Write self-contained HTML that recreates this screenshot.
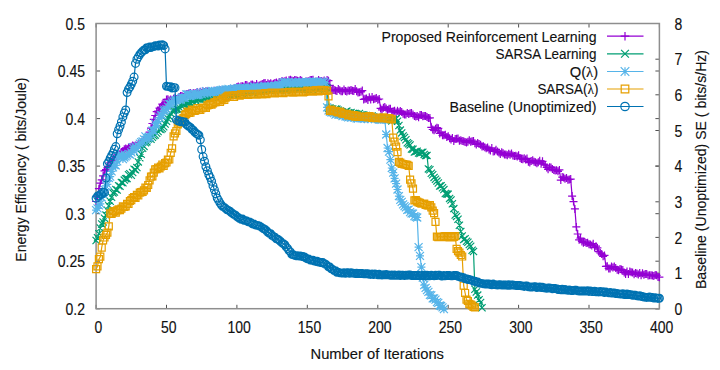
<!DOCTYPE html><html><head><meta charset="utf-8"><style>html,body{margin:0;padding:0;background:#fff;}svg{display:block;}</style></head><body><svg width="720" height="370" viewBox="0 0 720 370"><rect width="720" height="370" fill="#fff"/><path d="M96.1 308.8v-4M96.1 23.5v4M166.5 308.8v-4M166.5 23.5v4M236.9 308.8v-4M236.9 23.5v4M307.3 308.8v-4M307.3 23.5v4M377.8 308.8v-4M377.8 23.5v4M448.2 308.8v-4M448.2 23.5v4M518.6 308.8v-4M518.6 23.5v4M589 308.8v-4M589 23.5v4M659.4 308.8v-4M659.4 23.5v4M96.1 308.8h4M659.4 308.8h-4M96.1 261.2h4M659.4 261.2h-4M96.1 213.7h4M659.4 213.7h-4M96.1 166.1h4M659.4 166.1h-4M96.1 118.6h4M659.4 118.6h-4M96.1 71h4M659.4 71h-4M96.1 23.5h4M659.4 23.5h-4M659.4 308.8h-4M659.4 273.1h-4M659.4 237.4h-4M659.4 201.8h-4M659.4 166.1h-4M659.4 130.5h-4M659.4 94.8h-4M659.4 59.2h-4M659.4 23.5h-4" stroke="#505050" stroke-width="1" fill="none"/><rect x="96.1" y="23.5" width="563.3" height="285.2" fill="none" stroke="#8e8e8e" stroke-width="1.5"/><text transform="translate(98.3 333.4) scale(1 1.12)" text-anchor="middle" font-family="Liberation Sans, sans-serif" font-size="14" fill="#111" stroke="#111" stroke-width="0.12">0</text><text transform="translate(168.7 333.4) scale(1 1.12)" text-anchor="middle" font-family="Liberation Sans, sans-serif" font-size="14" fill="#111" stroke="#111" stroke-width="0.12">50</text><text transform="translate(239.1 333.4) scale(1 1.12)" text-anchor="middle" font-family="Liberation Sans, sans-serif" font-size="14" fill="#111" stroke="#111" stroke-width="0.12">100</text><text transform="translate(309.5 333.4) scale(1 1.12)" text-anchor="middle" font-family="Liberation Sans, sans-serif" font-size="14" fill="#111" stroke="#111" stroke-width="0.12">150</text><text transform="translate(379.9 333.4) scale(1 1.12)" text-anchor="middle" font-family="Liberation Sans, sans-serif" font-size="14" fill="#111" stroke="#111" stroke-width="0.12">200</text><text transform="translate(450.4 333.4) scale(1 1.12)" text-anchor="middle" font-family="Liberation Sans, sans-serif" font-size="14" fill="#111" stroke="#111" stroke-width="0.12">250</text><text transform="translate(520.8 333.4) scale(1 1.12)" text-anchor="middle" font-family="Liberation Sans, sans-serif" font-size="14" fill="#111" stroke="#111" stroke-width="0.12">300</text><text transform="translate(591.2 333.4) scale(1 1.12)" text-anchor="middle" font-family="Liberation Sans, sans-serif" font-size="14" fill="#111" stroke="#111" stroke-width="0.12">350</text><text transform="translate(661.6 333.4) scale(1 1.12)" text-anchor="middle" font-family="Liberation Sans, sans-serif" font-size="14" fill="#111" stroke="#111" stroke-width="0.12">400</text><text transform="translate(85 314.9) scale(1 1.12)" text-anchor="end" font-family="Liberation Sans, sans-serif" font-size="14" fill="#111" stroke="#111" stroke-width="0.12">0.2</text><text transform="translate(85 267.3) scale(1 1.12)" text-anchor="end" font-family="Liberation Sans, sans-serif" font-size="14" fill="#111" stroke="#111" stroke-width="0.12">0.25</text><text transform="translate(85 219.8) scale(1 1.12)" text-anchor="end" font-family="Liberation Sans, sans-serif" font-size="14" fill="#111" stroke="#111" stroke-width="0.12">0.3</text><text transform="translate(85 172.2) scale(1 1.12)" text-anchor="end" font-family="Liberation Sans, sans-serif" font-size="14" fill="#111" stroke="#111" stroke-width="0.12">0.35</text><text transform="translate(85 124.7) scale(1 1.12)" text-anchor="end" font-family="Liberation Sans, sans-serif" font-size="14" fill="#111" stroke="#111" stroke-width="0.12">0.4</text><text transform="translate(85 77.1) scale(1 1.12)" text-anchor="end" font-family="Liberation Sans, sans-serif" font-size="14" fill="#111" stroke="#111" stroke-width="0.12">0.45</text><text transform="translate(85 29.6) scale(1 1.12)" text-anchor="end" font-family="Liberation Sans, sans-serif" font-size="14" fill="#111" stroke="#111" stroke-width="0.12">0.5</text><text transform="translate(674.5 314.9) scale(1 1.12)" font-family="Liberation Sans, sans-serif" font-size="14" fill="#111" stroke="#111" stroke-width="0.12">0</text><text transform="translate(674.5 279.2) scale(1 1.12)" font-family="Liberation Sans, sans-serif" font-size="14" fill="#111" stroke="#111" stroke-width="0.12">1</text><text transform="translate(674.5 243.5) scale(1 1.12)" font-family="Liberation Sans, sans-serif" font-size="14" fill="#111" stroke="#111" stroke-width="0.12">2</text><text transform="translate(674.5 207.9) scale(1 1.12)" font-family="Liberation Sans, sans-serif" font-size="14" fill="#111" stroke="#111" stroke-width="0.12">3</text><text transform="translate(674.5 172.2) scale(1 1.12)" font-family="Liberation Sans, sans-serif" font-size="14" fill="#111" stroke="#111" stroke-width="0.12">4</text><text transform="translate(674.5 136.6) scale(1 1.12)" font-family="Liberation Sans, sans-serif" font-size="14" fill="#111" stroke="#111" stroke-width="0.12">5</text><text transform="translate(674.5 100.9) scale(1 1.12)" font-family="Liberation Sans, sans-serif" font-size="14" fill="#111" stroke="#111" stroke-width="0.12">6</text><text transform="translate(674.5 65.3) scale(1 1.12)" font-family="Liberation Sans, sans-serif" font-size="14" fill="#111" stroke="#111" stroke-width="0.12">7</text><text transform="translate(674.5 29.6) scale(1 1.12)" font-family="Liberation Sans, sans-serif" font-size="14" fill="#111" stroke="#111" stroke-width="0.12">8</text><text transform="translate(310.5 358.8) scale(1 1.1)" textLength="133.5" lengthAdjust="spacingAndGlyphs" font-family="Liberation Sans, sans-serif" font-size="14" fill="#111" stroke="#111" stroke-width="0.12">Number of Iterations</text><text transform="translate(25.8 261.7) rotate(-90) scale(1 1.1)" textLength="184" lengthAdjust="spacingAndGlyphs" font-family="Liberation Sans, sans-serif" font-size="14" fill="#111" stroke="#111" stroke-width="0.12">Energy Efficiency ( bits/Joule)</text><text transform="translate(705.8 289) rotate(-90) scale(1 1.1)" textLength="239" lengthAdjust="spacingAndGlyphs" font-family="Liberation Sans, sans-serif" font-size="14" fill="#111" stroke="#111" stroke-width="0.12">Baseline (Unoptimized) SE ( bits/s/Hz)</text><text transform="translate(596.5 41.5) scale(1 1.1)" text-anchor="end" textLength="215" lengthAdjust="spacingAndGlyphs" font-family="Liberation Sans, sans-serif" font-size="14" fill="#111" stroke="#111" stroke-width="0.12">Proposed Reinforcement Learning</text><text transform="translate(596.5 59.1) scale(1 1.1)" text-anchor="end" textLength="101" lengthAdjust="spacingAndGlyphs" font-family="Liberation Sans, sans-serif" font-size="14" fill="#111" stroke="#111" stroke-width="0.12">SARSA Learning</text><text transform="translate(598.2 76.8) scale(1 1.1)" text-anchor="end" textLength="28.5" lengthAdjust="spacingAndGlyphs" font-family="Liberation Sans, sans-serif" font-size="14" fill="#111" stroke="#111" stroke-width="0.12">Q(<tspan font-family="Liberation Serif, serif">λ</tspan>)</text><text transform="translate(598.4 94.3) scale(1 1.1)" text-anchor="end" textLength="61" lengthAdjust="spacingAndGlyphs" font-family="Liberation Sans, sans-serif" font-size="14" fill="#111" stroke="#111" stroke-width="0.12">SARSA(<tspan font-family="Liberation Serif, serif">λ</tspan>)</text><text transform="translate(596.5 111.8) scale(1 1.1)" text-anchor="end" textLength="147" lengthAdjust="spacingAndGlyphs" font-family="Liberation Sans, sans-serif" font-size="14" fill="#111" stroke="#111" stroke-width="0.12">Baseline (Unoptimized)</text><g stroke="#9400d3" fill="none" stroke-width="1.2"><path d="M96.1 201.5 97.5 196.1 98.9 188.7 100.3 183.2 101.7 179.9 103.1 175.9 104.5 170.8 106 169.6 107.4 167.9 108.8 166.4 110.2 162.8 111.6 161.7 113 159.6 114.4 159.7 115.8 157.9 117.2 154.8 118.6 155.6 120 154.2 121.4 152 122.9 151 124.3 149.3 125.7 148.4 127.1 149.1 128.5 147.4 129.9 147.2 131.3 146.7 132.7 145.6 134.1 146 135.5 145.4 136.9 145.7 138.3 144.3 139.8 143.7 141.2 142.5 142.6 141.9 144 140.6 145.4 138.8 146.8 138 148.2 135.6 149.6 132.2 151 128.2 152.4 123.5 153.8 119.4 155.2 115.5 156.7 111.6 158.1 111.2 159.5 108.1 160.9 107.1 162.3 104.2 163.7 104.3 165.1 102.7 166.5 99.4 167.9 99.2 169.3 100.6 170.7 99.4 172.1 100.4 173.6 98.8 175 97.7 176.4 98.9 177.8 98.8 179.2 97 180.6 96.1 182 96.1 183.4 97.1 184.8 96.1 186.2 94.1 187.6 93.9 189 93.3 190.5 93 191.9 94.6 193.3 92.9 194.7 93.6 196.1 93.1 197.5 92.3 198.9 93.4 200.3 91.8 201.7 92.8 203.1 91.4 204.5 91.9 205.9 91.3 207.4 91.4 208.8 92.9 210.2 92.4 211.6 91.2 213 92.5 214.4 90.7 215.8 91.1 217.2 92.1 218.6 91.5 220 90.1 221.4 92.2 222.8 90.2 224.3 90.2 225.7 91.4 227.1 90.3 228.5 90.1 229.9 89.5 231.3 89 232.7 89.6 234.1 88.2 235.5 88.4 236.9 87 238.3 86.4 239.7 87.4 241.1 86.2 242.6 86.3 244 86.8 245.4 85.1 246.8 84.9 248.2 86.6 249.6 86.2 251 84.7 252.4 84.4 253.8 85.6 255.2 86 256.6 84.1 258 85.8 259.5 85.5 260.9 84.7 262.3 84.1 263.7 83.3 265.1 83 266.5 85.1 267.9 83.3 269.3 84.3 270.7 83.2 272.1 84.4 273.5 83.8 274.9 82.9 276.4 82.6 277.8 83.8 279.2 82.1 280.6 82.4 282 81.1 283.4 81.8 284.8 81.3 286.2 80.5 287.6 82 289 80.3 290.4 79.8 291.8 80.4 293.3 80.9 294.7 79.9 296.1 80.2 297.5 80.7 298.9 81.2 300.3 80.1 301.7 80.7 303.1 81.9 304.5 82.2 305.9 81.4 307.3 81.5 308.7 81.2 310.2 80.1 311.6 79.9 313 79.8 314.4 82 315.8 81.5 317.2 82.1 318.6 79.9 320 81.3 321.4 81 322.8 81.6 324.2 80.6 325.6 82.2 327.1 80 328.5 80.7 329.9 85.3 331.3 90.5 332.7 90 334.1 90 335.5 90.4 336.9 90.9 338.3 89 339.7 90.3 341.1 91.2 342.5 91.2 344 89.6 345.4 91.1 346.8 91.4 348.2 90.4 349.6 90.7 351 89.9 352.4 90.7 353.8 90.9 355.2 89.1 356.6 91.2 358 92.5 359.4 92.2 360.9 91.8 362.3 90.6 363.7 99.4 365.1 98.8 366.5 98.4 367.9 99.9 369.3 97.2 370.7 99.6 372.1 97.1 373.5 99.2 374.9 98.8 376.3 97.9 377.8 99.7 379.2 99 380.6 108.4 382 109.8 383.4 107.7 384.8 107.1 386.2 108.4 387.6 110.1 389 108.7 390.4 108.8 391.8 111.8 393.2 111.2 394.6 110.7 396.1 112.6 397.5 110.8 398.9 112.3 400.3 111 401.7 112.1 403.1 113.7 404.5 114.4 405.9 114.5 407.3 113 408.7 114 410.1 113.3 411.5 113 413 114.5 414.4 116 415.8 116.4 417.2 116.1 418.6 117.3 420 115.1 421.4 115 422.8 116.3 424.2 116 425.6 116 427 117 428.4 118.1 429.9 117.9 431.3 127.3 432.7 129.5 434.1 130.3 435.5 128.7 436.9 127.7 438.3 128.3 439.7 133.4 441.1 132.4 442.5 135.3 443.9 135.2 445.3 134.8 446.8 137 448.2 136.3 449.6 138.2 451 139.5 452.4 138.1 453.8 141.1 455.2 139 456.6 138.8 458 138.6 459.4 140.8 460.8 140.2 462.2 141 463.7 141.2 465.1 141.9 466.5 142.5 467.9 141.7 469.3 140.3 470.7 141.8 472.1 141.2 473.5 141.1 474.9 143.2 476.3 144.5 477.7 143.1 479.1 143.9 480.6 144.7 482 146.4 483.4 146.3 484.8 147.2 486.2 148.2 487.6 147.5 489 149.4 490.4 150.4 491.8 147.9 493.2 151.5 494.6 151.3 496 149.7 497.5 151.4 498.9 152.5 500.3 154 501.7 152.3 503.1 153.3 504.5 154.6 505.9 154.6 507.3 155.3 508.7 153.8 510.1 154.7 511.5 153.4 512.9 155.5 514.4 156 515.8 155.8 517.2 156.5 518.6 155.2 520 158.1 521.4 158.9 522.8 159.3 524.2 158.2 525.6 159.6 527 158.4 528.4 161.7 529.8 162.6 531.2 161.1 532.7 160.3 534.1 161.7 535.5 162.3 536.9 163.2 538.3 162.3 539.7 160.8 541.1 163.8 542.5 161.3 543.9 164.1 545.3 165.2 546.7 167.5 548.1 169.3 549.6 167.2 551 167.4 552.4 169 553.8 169.9 555.2 170.5 556.6 170.2 558 171.3 559.4 169.9 560.8 180.1 562.2 177.1 563.6 177.6 565 178.8 566.5 178 567.9 179.7 569.3 179.4 570.7 179.1 572.1 196.1 573.5 201.6 574.9 208.9 576.3 226.9 577.7 234 579.1 239.8 580.5 238.2 581.9 241.4 583.4 242.7 584.8 242.1 586.2 243.1 587.6 242.7 589 244.3 590.4 244.6 591.8 245.4 593.2 243.7 594.6 247.5 596 246.2 597.4 247.9 598.8 251.7 600.3 253 601.7 254.1 603.1 256.3 604.5 255.4 605.9 266.4 607.3 266.2 608.7 268.4 610.1 268.6 611.5 266.5 612.9 267.6 614.3 266.6 615.7 268 617.2 269.7 618.6 270.3 620 269.1 621.4 269.5 622.8 269.9 624.2 272.4 625.6 274.1 627 271.4 628.4 273.9 629.8 271.4 631.2 272.2 632.6 272.4 634.1 274.3 635.5 273.1 636.9 273.4 638.3 274.5 639.7 272.9 641.1 275.3 642.5 273.3 643.9 274.8 645.3 274.1 646.7 274.1 648.1 275.4 649.5 275.3 651 275.2 652.4 275.5 653.8 276.1 655.2 274.9 656.6 275.3 658 277 659.4 277.2"/><path d="M92.1 201.5h8M96.1 197.5v8M93.5 196.1h8M97.5 192.1v8M94.9 188.7h8M98.9 184.7v8M96.3 183.2h8M100.3 179.2v8M97.7 179.9h8M101.7 175.9v8M99.1 175.9h8M103.1 171.9v8M100.5 170.8h8M104.5 166.8v8M102 169.6h8M106 165.6v8M103.4 167.9h8M107.4 163.9v8M104.8 166.4h8M108.8 162.4v8M106.2 162.8h8M110.2 158.8v8M107.6 161.7h8M111.6 157.7v8M109 159.6h8M113 155.6v8M110.4 159.7h8M114.4 155.7v8M111.8 157.9h8M115.8 153.9v8M113.2 154.8h8M117.2 150.8v8M114.6 155.6h8M118.6 151.6v8M116 154.2h8M120 150.2v8M117.4 152h8M121.4 148v8M118.9 151h8M122.9 147v8M120.3 149.3h8M124.3 145.3v8M121.7 148.4h8M125.7 144.4v8M123.1 149.1h8M127.1 145.1v8M124.5 147.4h8M128.5 143.4v8M125.9 147.2h8M129.9 143.2v8M127.3 146.7h8M131.3 142.7v8M128.7 145.6h8M132.7 141.6v8M130.1 146h8M134.1 142v8M131.5 145.4h8M135.5 141.4v8M132.9 145.7h8M136.9 141.7v8M134.3 144.3h8M138.3 140.3v8M135.8 143.7h8M139.8 139.7v8M137.2 142.5h8M141.2 138.5v8M138.6 141.9h8M142.6 137.9v8M140 140.6h8M144 136.6v8M141.4 138.8h8M145.4 134.8v8M142.8 138h8M146.8 134v8M144.2 135.6h8M148.2 131.6v8M145.6 132.2h8M149.6 128.2v8M147 128.2h8M151 124.2v8M148.4 123.5h8M152.4 119.5v8M149.8 119.4h8M153.8 115.4v8M151.2 115.5h8M155.2 111.5v8M152.7 111.6h8M156.7 107.6v8M154.1 111.2h8M158.1 107.2v8M155.5 108.1h8M159.5 104.1v8M156.9 107.1h8M160.9 103.1v8M158.3 104.2h8M162.3 100.2v8M159.7 104.3h8M163.7 100.3v8M161.1 102.7h8M165.1 98.7v8M162.5 99.4h8M166.5 95.4v8M163.9 99.2h8M167.9 95.2v8M165.3 100.6h8M169.3 96.6v8M166.7 99.4h8M170.7 95.4v8M168.1 100.4h8M172.1 96.4v8M169.6 98.8h8M173.6 94.8v8M171 97.7h8M175 93.7v8M172.4 98.9h8M176.4 94.9v8M173.8 98.8h8M177.8 94.8v8M175.2 97h8M179.2 93v8M176.6 96.1h8M180.6 92.1v8M178 96.1h8M182 92.1v8M179.4 97.1h8M183.4 93.1v8M180.8 96.1h8M184.8 92.1v8M182.2 94.1h8M186.2 90.1v8M183.6 93.9h8M187.6 89.9v8M185 93.3h8M189 89.3v8M186.5 93h8M190.5 89v8M187.9 94.6h8M191.9 90.6v8M189.3 92.9h8M193.3 88.9v8M190.7 93.6h8M194.7 89.6v8M192.1 93.1h8M196.1 89.1v8M193.5 92.3h8M197.5 88.3v8M194.9 93.4h8M198.9 89.4v8M196.3 91.8h8M200.3 87.8v8M197.7 92.8h8M201.7 88.8v8M199.1 91.4h8M203.1 87.4v8M200.5 91.9h8M204.5 87.9v8M201.9 91.3h8M205.9 87.3v8M203.4 91.4h8M207.4 87.4v8M204.8 92.9h8M208.8 88.9v8M206.2 92.4h8M210.2 88.4v8M207.6 91.2h8M211.6 87.2v8M209 92.5h8M213 88.5v8M210.4 90.7h8M214.4 86.7v8M211.8 91.1h8M215.8 87.1v8M213.2 92.1h8M217.2 88.1v8M214.6 91.5h8M218.6 87.5v8M216 90.1h8M220 86.1v8M217.4 92.2h8M221.4 88.2v8M218.8 90.2h8M222.8 86.2v8M220.3 90.2h8M224.3 86.2v8M221.7 91.4h8M225.7 87.4v8M223.1 90.3h8M227.1 86.3v8M224.5 90.1h8M228.5 86.1v8M225.9 89.5h8M229.9 85.5v8M227.3 89h8M231.3 85v8M228.7 89.6h8M232.7 85.6v8M230.1 88.2h8M234.1 84.2v8M231.5 88.4h8M235.5 84.4v8M232.9 87h8M236.9 83v8M234.3 86.4h8M238.3 82.4v8M235.7 87.4h8M239.7 83.4v8M237.1 86.2h8M241.1 82.2v8M238.6 86.3h8M242.6 82.3v8M240 86.8h8M244 82.8v8M241.4 85.1h8M245.4 81.1v8M242.8 84.9h8M246.8 80.9v8M244.2 86.6h8M248.2 82.6v8M245.6 86.2h8M249.6 82.2v8M247 84.7h8M251 80.7v8M248.4 84.4h8M252.4 80.4v8M249.8 85.6h8M253.8 81.6v8M251.2 86h8M255.2 82v8M252.6 84.1h8M256.6 80.1v8M254 85.8h8M258 81.8v8M255.5 85.5h8M259.5 81.5v8M256.9 84.7h8M260.9 80.7v8M258.3 84.1h8M262.3 80.1v8M259.7 83.3h8M263.7 79.3v8M261.1 83h8M265.1 79v8M262.5 85.1h8M266.5 81.1v8M263.9 83.3h8M267.9 79.3v8M265.3 84.3h8M269.3 80.3v8M266.7 83.2h8M270.7 79.2v8M268.1 84.4h8M272.1 80.4v8M269.5 83.8h8M273.5 79.8v8M270.9 82.9h8M274.9 78.9v8M272.4 82.6h8M276.4 78.6v8M273.8 83.8h8M277.8 79.8v8M275.2 82.1h8M279.2 78.1v8M276.6 82.4h8M280.6 78.4v8M278 81.1h8M282 77.1v8M279.4 81.8h8M283.4 77.8v8M280.8 81.3h8M284.8 77.3v8M282.2 80.5h8M286.2 76.5v8M283.6 82h8M287.6 78v8M285 80.3h8M289 76.3v8M286.4 79.8h8M290.4 75.8v8M287.8 80.4h8M291.8 76.4v8M289.3 80.9h8M293.3 76.9v8M290.7 79.9h8M294.7 75.9v8M292.1 80.2h8M296.1 76.2v8M293.5 80.7h8M297.5 76.7v8M294.9 81.2h8M298.9 77.2v8M296.3 80.1h8M300.3 76.1v8M297.7 80.7h8M301.7 76.7v8M299.1 81.9h8M303.1 77.9v8M300.5 82.2h8M304.5 78.2v8M301.9 81.4h8M305.9 77.4v8M303.3 81.5h8M307.3 77.5v8M304.7 81.2h8M308.7 77.2v8M306.2 80.1h8M310.2 76.1v8M307.6 79.9h8M311.6 75.9v8M309 79.8h8M313 75.8v8M310.4 82h8M314.4 78v8M311.8 81.5h8M315.8 77.5v8M313.2 82.1h8M317.2 78.1v8M314.6 79.9h8M318.6 75.9v8M316 81.3h8M320 77.3v8M317.4 81h8M321.4 77v8M318.8 81.6h8M322.8 77.6v8M320.2 80.6h8M324.2 76.6v8M321.6 82.2h8M325.6 78.2v8M323.1 80h8M327.1 76v8M324.5 80.7h8M328.5 76.7v8M325.9 85.3h8M329.9 81.3v8M327.3 90.5h8M331.3 86.5v8M328.7 90h8M332.7 86v8M330.1 90h8M334.1 86v8M331.5 90.4h8M335.5 86.4v8M332.9 90.9h8M336.9 86.9v8M334.3 89h8M338.3 85v8M335.7 90.3h8M339.7 86.3v8M337.1 91.2h8M341.1 87.2v8M338.5 91.2h8M342.5 87.2v8M340 89.6h8M344 85.6v8M341.4 91.1h8M345.4 87.1v8M342.8 91.4h8M346.8 87.4v8M344.2 90.4h8M348.2 86.4v8M345.6 90.7h8M349.6 86.7v8M347 89.9h8M351 85.9v8M348.4 90.7h8M352.4 86.7v8M349.8 90.9h8M353.8 86.9v8M351.2 89.1h8M355.2 85.1v8M352.6 91.2h8M356.6 87.2v8M354 92.5h8M358 88.5v8M355.4 92.2h8M359.4 88.2v8M356.9 91.8h8M360.9 87.8v8M358.3 90.6h8M362.3 86.6v8M359.7 99.4h8M363.7 95.4v8M361.1 98.8h8M365.1 94.8v8M362.5 98.4h8M366.5 94.4v8M363.9 99.9h8M367.9 95.9v8M365.3 97.2h8M369.3 93.2v8M366.7 99.6h8M370.7 95.6v8M368.1 97.1h8M372.1 93.1v8M369.5 99.2h8M373.5 95.2v8M370.9 98.8h8M374.9 94.8v8M372.3 97.9h8M376.3 93.9v8M373.8 99.7h8M377.8 95.7v8M375.2 99h8M379.2 95v8M376.6 108.4h8M380.6 104.4v8M378 109.8h8M382 105.8v8M379.4 107.7h8M383.4 103.7v8M380.8 107.1h8M384.8 103.1v8M382.2 108.4h8M386.2 104.4v8M383.6 110.1h8M387.6 106.1v8M385 108.7h8M389 104.7v8M386.4 108.8h8M390.4 104.8v8M387.8 111.8h8M391.8 107.8v8M389.2 111.2h8M393.2 107.2v8M390.6 110.7h8M394.6 106.7v8M392.1 112.6h8M396.1 108.6v8M393.5 110.8h8M397.5 106.8v8M394.9 112.3h8M398.9 108.3v8M396.3 111h8M400.3 107v8M397.7 112.1h8M401.7 108.1v8M399.1 113.7h8M403.1 109.7v8M400.5 114.4h8M404.5 110.4v8M401.9 114.5h8M405.9 110.5v8M403.3 113h8M407.3 109v8M404.7 114h8M408.7 110v8M406.1 113.3h8M410.1 109.3v8M407.5 113h8M411.5 109v8M409 114.5h8M413 110.5v8M410.4 116h8M414.4 112v8M411.8 116.4h8M415.8 112.4v8M413.2 116.1h8M417.2 112.1v8M414.6 117.3h8M418.6 113.3v8M416 115.1h8M420 111.1v8M417.4 115h8M421.4 111v8M418.8 116.3h8M422.8 112.3v8M420.2 116h8M424.2 112v8M421.6 116h8M425.6 112v8M423 117h8M427 113v8M424.4 118.1h8M428.4 114.1v8M425.9 117.9h8M429.9 113.9v8M427.3 127.3h8M431.3 123.3v8M428.7 129.5h8M432.7 125.5v8M430.1 130.3h8M434.1 126.3v8M431.5 128.7h8M435.5 124.7v8M432.9 127.7h8M436.9 123.7v8M434.3 128.3h8M438.3 124.3v8M435.7 133.4h8M439.7 129.4v8M437.1 132.4h8M441.1 128.4v8M438.5 135.3h8M442.5 131.3v8M439.9 135.2h8M443.9 131.2v8M441.3 134.8h8M445.3 130.8v8M442.8 137h8M446.8 133v8M444.2 136.3h8M448.2 132.3v8M445.6 138.2h8M449.6 134.2v8M447 139.5h8M451 135.5v8M448.4 138.1h8M452.4 134.1v8M449.8 141.1h8M453.8 137.1v8M451.2 139h8M455.2 135v8M452.6 138.8h8M456.6 134.8v8M454 138.6h8M458 134.6v8M455.4 140.8h8M459.4 136.8v8M456.8 140.2h8M460.8 136.2v8M458.2 141h8M462.2 137v8M459.7 141.2h8M463.7 137.2v8M461.1 141.9h8M465.1 137.9v8M462.5 142.5h8M466.5 138.5v8M463.9 141.7h8M467.9 137.7v8M465.3 140.3h8M469.3 136.3v8M466.7 141.8h8M470.7 137.8v8M468.1 141.2h8M472.1 137.2v8M469.5 141.1h8M473.5 137.1v8M470.9 143.2h8M474.9 139.2v8M472.3 144.5h8M476.3 140.5v8M473.7 143.1h8M477.7 139.1v8M475.1 143.9h8M479.1 139.9v8M476.6 144.7h8M480.6 140.7v8M478 146.4h8M482 142.4v8M479.4 146.3h8M483.4 142.3v8M480.8 147.2h8M484.8 143.2v8M482.2 148.2h8M486.2 144.2v8M483.6 147.5h8M487.6 143.5v8M485 149.4h8M489 145.4v8M486.4 150.4h8M490.4 146.4v8M487.8 147.9h8M491.8 143.9v8M489.2 151.5h8M493.2 147.5v8M490.6 151.3h8M494.6 147.3v8M492 149.7h8M496 145.7v8M493.5 151.4h8M497.5 147.4v8M494.9 152.5h8M498.9 148.5v8M496.3 154h8M500.3 150v8M497.7 152.3h8M501.7 148.3v8M499.1 153.3h8M503.1 149.3v8M500.5 154.6h8M504.5 150.6v8M501.9 154.6h8M505.9 150.6v8M503.3 155.3h8M507.3 151.3v8M504.7 153.8h8M508.7 149.8v8M506.1 154.7h8M510.1 150.7v8M507.5 153.4h8M511.5 149.4v8M508.9 155.5h8M512.9 151.5v8M510.4 156h8M514.4 152v8M511.8 155.8h8M515.8 151.8v8M513.2 156.5h8M517.2 152.5v8M514.6 155.2h8M518.6 151.2v8M516 158.1h8M520 154.1v8M517.4 158.9h8M521.4 154.9v8M518.8 159.3h8M522.8 155.3v8M520.2 158.2h8M524.2 154.2v8M521.6 159.6h8M525.6 155.6v8M523 158.4h8M527 154.4v8M524.4 161.7h8M528.4 157.7v8M525.8 162.6h8M529.8 158.6v8M527.2 161.1h8M531.2 157.1v8M528.7 160.3h8M532.7 156.3v8M530.1 161.7h8M534.1 157.7v8M531.5 162.3h8M535.5 158.3v8M532.9 163.2h8M536.9 159.2v8M534.3 162.3h8M538.3 158.3v8M535.7 160.8h8M539.7 156.8v8M537.1 163.8h8M541.1 159.8v8M538.5 161.3h8M542.5 157.3v8M539.9 164.1h8M543.9 160.1v8M541.3 165.2h8M545.3 161.2v8M542.7 167.5h8M546.7 163.5v8M544.1 169.3h8M548.1 165.3v8M545.6 167.2h8M549.6 163.2v8M547 167.4h8M551 163.4v8M548.4 169h8M552.4 165v8M549.8 169.9h8M553.8 165.9v8M551.2 170.5h8M555.2 166.5v8M552.6 170.2h8M556.6 166.2v8M554 171.3h8M558 167.3v8M555.4 169.9h8M559.4 165.9v8M556.8 180.1h8M560.8 176.1v8M558.2 177.1h8M562.2 173.1v8M559.6 177.6h8M563.6 173.6v8M561 178.8h8M565 174.8v8M562.5 178h8M566.5 174v8M563.9 179.7h8M567.9 175.7v8M565.3 179.4h8M569.3 175.4v8M566.7 179.1h8M570.7 175.1v8M568.1 196.1h8M572.1 192.1v8M569.5 201.6h8M573.5 197.6v8M570.9 208.9h8M574.9 204.9v8M572.3 226.9h8M576.3 222.9v8M573.7 234h8M577.7 230v8M575.1 239.8h8M579.1 235.8v8M576.5 238.2h8M580.5 234.2v8M577.9 241.4h8M581.9 237.4v8M579.4 242.7h8M583.4 238.7v8M580.8 242.1h8M584.8 238.1v8M582.2 243.1h8M586.2 239.1v8M583.6 242.7h8M587.6 238.7v8M585 244.3h8M589 240.3v8M586.4 244.6h8M590.4 240.6v8M587.8 245.4h8M591.8 241.4v8M589.2 243.7h8M593.2 239.7v8M590.6 247.5h8M594.6 243.5v8M592 246.2h8M596 242.2v8M593.4 247.9h8M597.4 243.9v8M594.8 251.7h8M598.8 247.7v8M596.3 253h8M600.3 249v8M597.7 254.1h8M601.7 250.1v8M599.1 256.3h8M603.1 252.3v8M600.5 255.4h8M604.5 251.4v8M601.9 266.4h8M605.9 262.4v8M603.3 266.2h8M607.3 262.2v8M604.7 268.4h8M608.7 264.4v8M606.1 268.6h8M610.1 264.6v8M607.5 266.5h8M611.5 262.5v8M608.9 267.6h8M612.9 263.6v8M610.3 266.6h8M614.3 262.6v8M611.7 268h8M615.7 264v8M613.2 269.7h8M617.2 265.7v8M614.6 270.3h8M618.6 266.3v8M616 269.1h8M620 265.1v8M617.4 269.5h8M621.4 265.5v8M618.8 269.9h8M622.8 265.9v8M620.2 272.4h8M624.2 268.4v8M621.6 274.1h8M625.6 270.1v8M623 271.4h8M627 267.4v8M624.4 273.9h8M628.4 269.9v8M625.8 271.4h8M629.8 267.4v8M627.2 272.2h8M631.2 268.2v8M628.6 272.4h8M632.6 268.4v8M630.1 274.3h8M634.1 270.3v8M631.5 273.1h8M635.5 269.1v8M632.9 273.4h8M636.9 269.4v8M634.3 274.5h8M638.3 270.5v8M635.7 272.9h8M639.7 268.9v8M637.1 275.3h8M641.1 271.3v8M638.5 273.3h8M642.5 269.3v8M639.9 274.8h8M643.9 270.8v8M641.3 274.1h8M645.3 270.1v8M642.7 274.1h8M646.7 270.1v8M644.1 275.4h8M648.1 271.4v8M645.5 275.3h8M649.5 271.3v8M647 275.2h8M651 271.2v8M648.4 275.5h8M652.4 271.5v8M649.8 276.1h8M653.8 272.1v8M651.2 274.9h8M655.2 270.9v8M652.6 275.3h8M656.6 271.3v8M654 277h8M658 273v8M655.4 277.2h8M659.4 273.2v8"/><path d="M607 36.2H643.5"/><path d="M620.7 36.2h8.6M625 31.9v8.6"/></g><g stroke="#009e73" fill="none" stroke-width="1.2"><path d="M96.1 240.5 97.5 237.7 98.9 233.7 100.3 228 101.7 223.9 103.1 221.9 104.5 218.2 106 215.1 107.4 210.2 108.8 205.7 110.2 201.3 111.6 197.3 113 192.9 114.4 192.1 115.8 189.5 117.2 190 118.6 185.7 120 186.3 121.4 182.4 122.9 182.7 124.3 180.1 125.7 178.7 127.1 178.5 128.5 174.8 129.9 173.8 131.3 175.2 132.7 172.6 134.1 169.2 135.5 169.8 136.9 167.6 138.3 161.9 139.8 157.8 141.2 154.3 142.6 148.3 144 146.4 145.4 142.7 146.8 141.9 148.2 138.9 149.6 138.3 151 139.3 152.4 137.2 153.8 135.8 155.2 135 156.7 133.2 158.1 131.6 159.5 129.1 160.9 129.6 162.3 128.5 163.7 126.8 165.1 124 166.5 121.2 167.9 118.5 169.3 116.4 170.7 113.4 172.1 110.8 173.6 110.2 175 109.7 176.4 109.2 177.8 109.1 179.2 107.3 180.6 104.9 182 106.5 183.4 104.8 184.8 104.6 186.2 103.2 187.6 103.3 189 102.7 190.5 103.4 191.9 100.9 193.3 101.7 194.7 100.1 196.1 101.3 197.5 98.9 198.9 99.3 200.3 99.1 201.7 99.6 203.1 97.5 204.5 98.3 205.9 97.2 207.4 97.1 208.8 97.3 210.2 98.4 211.6 96.7 213 98 214.4 95.4 215.8 97.5 217.2 95.6 218.6 94.9 220 96.4 221.4 96.7 222.8 93.8 224.3 94.3 225.7 95.7 227.1 94.2 228.5 93.7 229.9 92.8 231.3 92.7 232.7 94.2 234.1 95.1 235.5 95 236.9 93.3 238.3 91.7 239.7 92.4 241.1 93.6 242.6 93.5 244 92.7 245.4 91.3 246.8 92 248.2 91.7 249.6 91.9 251 90.7 252.4 92.7 253.8 92.4 255.2 90.1 256.6 90.4 258 92 259.5 90.1 260.9 92 262.3 90.6 263.7 91.1 265.1 91 266.5 89.4 267.9 89.5 269.3 89.3 270.7 90.5 272.1 90.4 273.5 88.6 274.9 90.8 276.4 89.3 277.8 88.6 279.2 89.1 280.6 90.6 282 89.3 283.4 89.4 284.8 90.1 286.2 90.2 287.6 89.5 289 88.3 290.4 88.8 291.8 89.7 293.3 89.3 294.7 88.7 296.1 88 297.5 88 298.9 89.1 300.3 88.5 301.7 86.9 303.1 88.9 304.5 89.5 305.9 89.2 307.3 89.5 308.7 89.5 310.2 88.3 311.6 89.1 313 87.8 314.4 87 315.8 87.7 317.2 87.6 318.6 89.4 320 88.7 321.4 88.2 322.8 88.4 324.2 86.9 325.6 88.1 327.1 88.1 328.5 108.2 329.9 108 331.3 108.9 332.7 109 334.1 110.5 335.5 109.1 336.9 109.3 338.3 110.2 339.7 111.7 341.1 112.1 342.5 112.1 344 113.2 345.4 111.8 346.8 111.1 348.2 112.7 349.6 112.9 351 112.4 352.4 114.1 353.8 113.4 355.2 113.4 356.6 113.9 358 116.1 359.4 113.5 360.9 114.9 362.3 114.9 363.7 115 365.1 115.9 366.5 115.4 367.9 117.7 369.3 116.6 370.7 117.4 372.1 116 373.5 117.1 374.9 117.7 376.3 118.5 377.8 116.9 379.2 117.8 380.6 119.1 382 119.2 383.4 117.6 384.8 118.7 386.2 119.5 387.6 118.6 389 119.6 390.4 119.8 391.8 120.9 393.2 119.5 394.6 119.7 396.1 118.6 397.5 121.3 398.9 125.5 400.3 130.1 401.7 132.9 403.1 136 404.5 137.5 405.9 139.8 407.3 142.7 408.7 143.7 410.1 144.9 411.5 149 413 149.2 414.4 152 415.8 151.4 417.2 151.2 418.6 153.1 420 153.6 421.4 152.4 422.8 152.3 424.2 154.4 425.6 155.6 427 155.4 428.4 168.9 429.9 169.8 431.3 173.2 432.7 174.8 434.1 177.4 435.5 179.2 436.9 181.1 438.3 183 439.7 186 441.1 185.8 442.5 187.7 443.9 189.6 445.3 193.5 446.8 193.9 448.2 194.3 449.6 198.4 451 200 452.4 203.7 453.8 208.6 455.2 215 456.6 216.4 458 219.2 459.4 225.2 460.8 231.5 462.2 235.9 463.7 239.6 465.1 238.8 466.5 241.3 467.9 242.2 469.3 244.5 470.7 246.3 472.1 250.2 473.5 251.5 474.9 289.3 476.3 292 477.7 295.1 479.1 299.8 480.6 302.5 482 307.8"/><path d="M92.5 236.9l7.2 7.2M92.5 244.1l7.2 -7.2M93.9 234.1l7.2 7.2M93.9 241.3l7.2 -7.2M95.3 230.1l7.2 7.2M95.3 237.3l7.2 -7.2M96.7 224.4l7.2 7.2M96.7 231.6l7.2 -7.2M98.1 220.3l7.2 7.2M98.1 227.5l7.2 -7.2M99.5 218.3l7.2 7.2M99.5 225.5l7.2 -7.2M100.9 214.6l7.2 7.2M100.9 221.8l7.2 -7.2M102.4 211.5l7.2 7.2M102.4 218.7l7.2 -7.2M103.8 206.6l7.2 7.2M103.8 213.8l7.2 -7.2M105.2 202.1l7.2 7.2M105.2 209.3l7.2 -7.2M106.6 197.7l7.2 7.2M106.6 204.9l7.2 -7.2M108 193.7l7.2 7.2M108 200.9l7.2 -7.2M109.4 189.3l7.2 7.2M109.4 196.5l7.2 -7.2M110.8 188.5l7.2 7.2M110.8 195.7l7.2 -7.2M112.2 185.9l7.2 7.2M112.2 193.1l7.2 -7.2M113.6 186.4l7.2 7.2M113.6 193.6l7.2 -7.2M115 182.1l7.2 7.2M115 189.3l7.2 -7.2M116.4 182.7l7.2 7.2M116.4 189.9l7.2 -7.2M117.8 178.8l7.2 7.2M117.8 186l7.2 -7.2M119.3 179.1l7.2 7.2M119.3 186.3l7.2 -7.2M120.7 176.5l7.2 7.2M120.7 183.7l7.2 -7.2M122.1 175.1l7.2 7.2M122.1 182.3l7.2 -7.2M123.5 174.9l7.2 7.2M123.5 182.1l7.2 -7.2M124.9 171.2l7.2 7.2M124.9 178.4l7.2 -7.2M126.3 170.2l7.2 7.2M126.3 177.4l7.2 -7.2M127.7 171.6l7.2 7.2M127.7 178.8l7.2 -7.2M129.1 169l7.2 7.2M129.1 176.2l7.2 -7.2M130.5 165.6l7.2 7.2M130.5 172.8l7.2 -7.2M131.9 166.2l7.2 7.2M131.9 173.4l7.2 -7.2M133.3 164l7.2 7.2M133.3 171.2l7.2 -7.2M134.7 158.3l7.2 7.2M134.7 165.5l7.2 -7.2M136.2 154.2l7.2 7.2M136.2 161.4l7.2 -7.2M137.6 150.7l7.2 7.2M137.6 157.9l7.2 -7.2M139 144.7l7.2 7.2M139 151.9l7.2 -7.2M140.4 142.8l7.2 7.2M140.4 150l7.2 -7.2M141.8 139.1l7.2 7.2M141.8 146.3l7.2 -7.2M143.2 138.3l7.2 7.2M143.2 145.5l7.2 -7.2M144.6 135.3l7.2 7.2M144.6 142.5l7.2 -7.2M146 134.7l7.2 7.2M146 141.9l7.2 -7.2M147.4 135.7l7.2 7.2M147.4 142.9l7.2 -7.2M148.8 133.6l7.2 7.2M148.8 140.8l7.2 -7.2M150.2 132.2l7.2 7.2M150.2 139.4l7.2 -7.2M151.6 131.4l7.2 7.2M151.6 138.6l7.2 -7.2M153.1 129.6l7.2 7.2M153.1 136.8l7.2 -7.2M154.5 128l7.2 7.2M154.5 135.2l7.2 -7.2M155.9 125.5l7.2 7.2M155.9 132.7l7.2 -7.2M157.3 126l7.2 7.2M157.3 133.2l7.2 -7.2M158.7 124.9l7.2 7.2M158.7 132.1l7.2 -7.2M160.1 123.2l7.2 7.2M160.1 130.4l7.2 -7.2M161.5 120.4l7.2 7.2M161.5 127.6l7.2 -7.2M162.9 117.6l7.2 7.2M162.9 124.8l7.2 -7.2M164.3 114.9l7.2 7.2M164.3 122.1l7.2 -7.2M165.7 112.8l7.2 7.2M165.7 120l7.2 -7.2M167.1 109.8l7.2 7.2M167.1 117l7.2 -7.2M168.5 107.2l7.2 7.2M168.5 114.4l7.2 -7.2M170 106.6l7.2 7.2M170 113.8l7.2 -7.2M171.4 106.1l7.2 7.2M171.4 113.3l7.2 -7.2M172.8 105.6l7.2 7.2M172.8 112.8l7.2 -7.2M174.2 105.5l7.2 7.2M174.2 112.7l7.2 -7.2M175.6 103.7l7.2 7.2M175.6 110.9l7.2 -7.2M177 101.3l7.2 7.2M177 108.5l7.2 -7.2M178.4 102.9l7.2 7.2M178.4 110.1l7.2 -7.2M179.8 101.2l7.2 7.2M179.8 108.4l7.2 -7.2M181.2 101l7.2 7.2M181.2 108.2l7.2 -7.2M182.6 99.6l7.2 7.2M182.6 106.8l7.2 -7.2M184 99.7l7.2 7.2M184 106.9l7.2 -7.2M185.4 99.1l7.2 7.2M185.4 106.3l7.2 -7.2M186.9 99.8l7.2 7.2M186.9 107l7.2 -7.2M188.3 97.3l7.2 7.2M188.3 104.5l7.2 -7.2M189.7 98.1l7.2 7.2M189.7 105.3l7.2 -7.2M191.1 96.5l7.2 7.2M191.1 103.7l7.2 -7.2M192.5 97.7l7.2 7.2M192.5 104.9l7.2 -7.2M193.9 95.3l7.2 7.2M193.9 102.5l7.2 -7.2M195.3 95.7l7.2 7.2M195.3 102.9l7.2 -7.2M196.7 95.5l7.2 7.2M196.7 102.7l7.2 -7.2M198.1 96l7.2 7.2M198.1 103.2l7.2 -7.2M199.5 93.9l7.2 7.2M199.5 101.1l7.2 -7.2M200.9 94.7l7.2 7.2M200.9 101.9l7.2 -7.2M202.3 93.6l7.2 7.2M202.3 100.8l7.2 -7.2M203.8 93.5l7.2 7.2M203.8 100.7l7.2 -7.2M205.2 93.7l7.2 7.2M205.2 100.9l7.2 -7.2M206.6 94.8l7.2 7.2M206.6 102l7.2 -7.2M208 93.1l7.2 7.2M208 100.3l7.2 -7.2M209.4 94.4l7.2 7.2M209.4 101.6l7.2 -7.2M210.8 91.8l7.2 7.2M210.8 99l7.2 -7.2M212.2 93.9l7.2 7.2M212.2 101.1l7.2 -7.2M213.6 92l7.2 7.2M213.6 99.2l7.2 -7.2M215 91.3l7.2 7.2M215 98.5l7.2 -7.2M216.4 92.8l7.2 7.2M216.4 100l7.2 -7.2M217.8 93.1l7.2 7.2M217.8 100.3l7.2 -7.2M219.2 90.2l7.2 7.2M219.2 97.4l7.2 -7.2M220.7 90.7l7.2 7.2M220.7 97.9l7.2 -7.2M222.1 92.1l7.2 7.2M222.1 99.3l7.2 -7.2M223.5 90.6l7.2 7.2M223.5 97.8l7.2 -7.2M224.9 90.1l7.2 7.2M224.9 97.3l7.2 -7.2M226.3 89.2l7.2 7.2M226.3 96.4l7.2 -7.2M227.7 89.1l7.2 7.2M227.7 96.3l7.2 -7.2M229.1 90.6l7.2 7.2M229.1 97.8l7.2 -7.2M230.5 91.5l7.2 7.2M230.5 98.7l7.2 -7.2M231.9 91.4l7.2 7.2M231.9 98.6l7.2 -7.2M233.3 89.7l7.2 7.2M233.3 96.9l7.2 -7.2M234.7 88.1l7.2 7.2M234.7 95.3l7.2 -7.2M236.1 88.8l7.2 7.2M236.1 96l7.2 -7.2M237.5 90l7.2 7.2M237.5 97.2l7.2 -7.2M239 89.9l7.2 7.2M239 97.1l7.2 -7.2M240.4 89.1l7.2 7.2M240.4 96.3l7.2 -7.2M241.8 87.7l7.2 7.2M241.8 94.9l7.2 -7.2M243.2 88.4l7.2 7.2M243.2 95.6l7.2 -7.2M244.6 88.1l7.2 7.2M244.6 95.3l7.2 -7.2M246 88.3l7.2 7.2M246 95.5l7.2 -7.2M247.4 87.1l7.2 7.2M247.4 94.3l7.2 -7.2M248.8 89.1l7.2 7.2M248.8 96.3l7.2 -7.2M250.2 88.8l7.2 7.2M250.2 96l7.2 -7.2M251.6 86.5l7.2 7.2M251.6 93.7l7.2 -7.2M253 86.8l7.2 7.2M253 94l7.2 -7.2M254.4 88.4l7.2 7.2M254.4 95.6l7.2 -7.2M255.9 86.5l7.2 7.2M255.9 93.7l7.2 -7.2M257.3 88.4l7.2 7.2M257.3 95.6l7.2 -7.2M258.7 87l7.2 7.2M258.7 94.2l7.2 -7.2M260.1 87.5l7.2 7.2M260.1 94.7l7.2 -7.2M261.5 87.4l7.2 7.2M261.5 94.6l7.2 -7.2M262.9 85.8l7.2 7.2M262.9 93l7.2 -7.2M264.3 85.9l7.2 7.2M264.3 93.1l7.2 -7.2M265.7 85.7l7.2 7.2M265.7 92.9l7.2 -7.2M267.1 86.9l7.2 7.2M267.1 94.1l7.2 -7.2M268.5 86.8l7.2 7.2M268.5 94l7.2 -7.2M269.9 85l7.2 7.2M269.9 92.2l7.2 -7.2M271.3 87.2l7.2 7.2M271.3 94.4l7.2 -7.2M272.8 85.7l7.2 7.2M272.8 92.9l7.2 -7.2M274.2 85l7.2 7.2M274.2 92.2l7.2 -7.2M275.6 85.5l7.2 7.2M275.6 92.7l7.2 -7.2M277 87l7.2 7.2M277 94.2l7.2 -7.2M278.4 85.7l7.2 7.2M278.4 92.9l7.2 -7.2M279.8 85.8l7.2 7.2M279.8 93l7.2 -7.2M281.2 86.5l7.2 7.2M281.2 93.7l7.2 -7.2M282.6 86.6l7.2 7.2M282.6 93.8l7.2 -7.2M284 85.9l7.2 7.2M284 93.1l7.2 -7.2M285.4 84.7l7.2 7.2M285.4 91.9l7.2 -7.2M286.8 85.2l7.2 7.2M286.8 92.4l7.2 -7.2M288.2 86.1l7.2 7.2M288.2 93.3l7.2 -7.2M289.7 85.7l7.2 7.2M289.7 92.9l7.2 -7.2M291.1 85.1l7.2 7.2M291.1 92.3l7.2 -7.2M292.5 84.4l7.2 7.2M292.5 91.6l7.2 -7.2M293.9 84.4l7.2 7.2M293.9 91.6l7.2 -7.2M295.3 85.5l7.2 7.2M295.3 92.7l7.2 -7.2M296.7 84.9l7.2 7.2M296.7 92.1l7.2 -7.2M298.1 83.3l7.2 7.2M298.1 90.5l7.2 -7.2M299.5 85.3l7.2 7.2M299.5 92.5l7.2 -7.2M300.9 85.9l7.2 7.2M300.9 93.1l7.2 -7.2M302.3 85.6l7.2 7.2M302.3 92.8l7.2 -7.2M303.7 85.9l7.2 7.2M303.7 93.1l7.2 -7.2M305.1 85.9l7.2 7.2M305.1 93.1l7.2 -7.2M306.6 84.7l7.2 7.2M306.6 91.9l7.2 -7.2M308 85.5l7.2 7.2M308 92.7l7.2 -7.2M309.4 84.2l7.2 7.2M309.4 91.4l7.2 -7.2M310.8 83.4l7.2 7.2M310.8 90.6l7.2 -7.2M312.2 84.1l7.2 7.2M312.2 91.3l7.2 -7.2M313.6 84l7.2 7.2M313.6 91.2l7.2 -7.2M315 85.8l7.2 7.2M315 93l7.2 -7.2M316.4 85.1l7.2 7.2M316.4 92.3l7.2 -7.2M317.8 84.6l7.2 7.2M317.8 91.8l7.2 -7.2M319.2 84.8l7.2 7.2M319.2 92l7.2 -7.2M320.6 83.3l7.2 7.2M320.6 90.5l7.2 -7.2M322 84.5l7.2 7.2M322 91.7l7.2 -7.2M323.5 84.5l7.2 7.2M323.5 91.7l7.2 -7.2M324.9 104.6l7.2 7.2M324.9 111.8l7.2 -7.2M326.3 104.4l7.2 7.2M326.3 111.6l7.2 -7.2M327.7 105.3l7.2 7.2M327.7 112.5l7.2 -7.2M329.1 105.4l7.2 7.2M329.1 112.6l7.2 -7.2M330.5 106.9l7.2 7.2M330.5 114.1l7.2 -7.2M331.9 105.5l7.2 7.2M331.9 112.7l7.2 -7.2M333.3 105.7l7.2 7.2M333.3 112.9l7.2 -7.2M334.7 106.6l7.2 7.2M334.7 113.8l7.2 -7.2M336.1 108.1l7.2 7.2M336.1 115.3l7.2 -7.2M337.5 108.5l7.2 7.2M337.5 115.7l7.2 -7.2M338.9 108.5l7.2 7.2M338.9 115.7l7.2 -7.2M340.4 109.6l7.2 7.2M340.4 116.8l7.2 -7.2M341.8 108.2l7.2 7.2M341.8 115.4l7.2 -7.2M343.2 107.5l7.2 7.2M343.2 114.7l7.2 -7.2M344.6 109.1l7.2 7.2M344.6 116.3l7.2 -7.2M346 109.3l7.2 7.2M346 116.5l7.2 -7.2M347.4 108.8l7.2 7.2M347.4 116l7.2 -7.2M348.8 110.5l7.2 7.2M348.8 117.7l7.2 -7.2M350.2 109.8l7.2 7.2M350.2 117l7.2 -7.2M351.6 109.8l7.2 7.2M351.6 117l7.2 -7.2M353 110.3l7.2 7.2M353 117.5l7.2 -7.2M354.4 112.5l7.2 7.2M354.4 119.7l7.2 -7.2M355.8 109.9l7.2 7.2M355.8 117.1l7.2 -7.2M357.3 111.3l7.2 7.2M357.3 118.5l7.2 -7.2M358.7 111.3l7.2 7.2M358.7 118.5l7.2 -7.2M360.1 111.4l7.2 7.2M360.1 118.6l7.2 -7.2M361.5 112.3l7.2 7.2M361.5 119.5l7.2 -7.2M362.9 111.8l7.2 7.2M362.9 119l7.2 -7.2M364.3 114.1l7.2 7.2M364.3 121.3l7.2 -7.2M365.7 113l7.2 7.2M365.7 120.2l7.2 -7.2M367.1 113.8l7.2 7.2M367.1 121l7.2 -7.2M368.5 112.4l7.2 7.2M368.5 119.6l7.2 -7.2M369.9 113.5l7.2 7.2M369.9 120.7l7.2 -7.2M371.3 114.1l7.2 7.2M371.3 121.3l7.2 -7.2M372.7 114.9l7.2 7.2M372.7 122.1l7.2 -7.2M374.1 113.3l7.2 7.2M374.1 120.5l7.2 -7.2M375.6 114.2l7.2 7.2M375.6 121.4l7.2 -7.2M377 115.5l7.2 7.2M377 122.7l7.2 -7.2M378.4 115.6l7.2 7.2M378.4 122.8l7.2 -7.2M379.8 114l7.2 7.2M379.8 121.2l7.2 -7.2M381.2 115.1l7.2 7.2M381.2 122.3l7.2 -7.2M382.6 115.9l7.2 7.2M382.6 123.1l7.2 -7.2M384 115l7.2 7.2M384 122.2l7.2 -7.2M385.4 116l7.2 7.2M385.4 123.2l7.2 -7.2M386.8 116.2l7.2 7.2M386.8 123.4l7.2 -7.2M388.2 117.3l7.2 7.2M388.2 124.5l7.2 -7.2M389.6 115.9l7.2 7.2M389.6 123.1l7.2 -7.2M391 116.1l7.2 7.2M391 123.3l7.2 -7.2M392.5 115l7.2 7.2M392.5 122.2l7.2 -7.2M393.9 117.7l7.2 7.2M393.9 124.9l7.2 -7.2M395.3 121.9l7.2 7.2M395.3 129.1l7.2 -7.2M396.7 126.5l7.2 7.2M396.7 133.7l7.2 -7.2M398.1 129.3l7.2 7.2M398.1 136.5l7.2 -7.2M399.5 132.4l7.2 7.2M399.5 139.6l7.2 -7.2M400.9 133.9l7.2 7.2M400.9 141.1l7.2 -7.2M402.3 136.2l7.2 7.2M402.3 143.4l7.2 -7.2M403.7 139.1l7.2 7.2M403.7 146.3l7.2 -7.2M405.1 140.1l7.2 7.2M405.1 147.3l7.2 -7.2M406.5 141.3l7.2 7.2M406.5 148.5l7.2 -7.2M407.9 145.4l7.2 7.2M407.9 152.6l7.2 -7.2M409.4 145.6l7.2 7.2M409.4 152.8l7.2 -7.2M410.8 148.4l7.2 7.2M410.8 155.6l7.2 -7.2M412.2 147.8l7.2 7.2M412.2 155l7.2 -7.2M413.6 147.6l7.2 7.2M413.6 154.8l7.2 -7.2M415 149.5l7.2 7.2M415 156.7l7.2 -7.2M416.4 150l7.2 7.2M416.4 157.2l7.2 -7.2M417.8 148.8l7.2 7.2M417.8 156l7.2 -7.2M419.2 148.7l7.2 7.2M419.2 155.9l7.2 -7.2M420.6 150.8l7.2 7.2M420.6 158l7.2 -7.2M422 152l7.2 7.2M422 159.2l7.2 -7.2M423.4 151.8l7.2 7.2M423.4 159l7.2 -7.2M424.8 165.3l7.2 7.2M424.8 172.5l7.2 -7.2M426.3 166.2l7.2 7.2M426.3 173.4l7.2 -7.2M427.7 169.6l7.2 7.2M427.7 176.8l7.2 -7.2M429.1 171.2l7.2 7.2M429.1 178.4l7.2 -7.2M430.5 173.8l7.2 7.2M430.5 181l7.2 -7.2M431.9 175.6l7.2 7.2M431.9 182.8l7.2 -7.2M433.3 177.5l7.2 7.2M433.3 184.7l7.2 -7.2M434.7 179.4l7.2 7.2M434.7 186.6l7.2 -7.2M436.1 182.4l7.2 7.2M436.1 189.6l7.2 -7.2M437.5 182.2l7.2 7.2M437.5 189.4l7.2 -7.2M438.9 184.1l7.2 7.2M438.9 191.3l7.2 -7.2M440.3 186l7.2 7.2M440.3 193.2l7.2 -7.2M441.7 189.9l7.2 7.2M441.7 197.1l7.2 -7.2M443.2 190.3l7.2 7.2M443.2 197.5l7.2 -7.2M444.6 190.7l7.2 7.2M444.6 197.9l7.2 -7.2M446 194.8l7.2 7.2M446 202l7.2 -7.2M447.4 196.4l7.2 7.2M447.4 203.6l7.2 -7.2M448.8 200.1l7.2 7.2M448.8 207.3l7.2 -7.2M450.2 205l7.2 7.2M450.2 212.2l7.2 -7.2M451.6 211.4l7.2 7.2M451.6 218.6l7.2 -7.2M453 212.8l7.2 7.2M453 220l7.2 -7.2M454.4 215.6l7.2 7.2M454.4 222.8l7.2 -7.2M455.8 221.6l7.2 7.2M455.8 228.8l7.2 -7.2M457.2 227.9l7.2 7.2M457.2 235.1l7.2 -7.2M458.6 232.3l7.2 7.2M458.6 239.5l7.2 -7.2M460.1 236l7.2 7.2M460.1 243.2l7.2 -7.2M461.5 235.2l7.2 7.2M461.5 242.4l7.2 -7.2M462.9 237.7l7.2 7.2M462.9 244.9l7.2 -7.2M464.3 238.6l7.2 7.2M464.3 245.8l7.2 -7.2M465.7 240.9l7.2 7.2M465.7 248.1l7.2 -7.2M467.1 242.7l7.2 7.2M467.1 249.9l7.2 -7.2M468.5 246.6l7.2 7.2M468.5 253.8l7.2 -7.2M469.9 247.9l7.2 7.2M469.9 255.1l7.2 -7.2M471.3 285.7l7.2 7.2M471.3 292.9l7.2 -7.2M472.7 288.4l7.2 7.2M472.7 295.6l7.2 -7.2M474.1 291.5l7.2 7.2M474.1 298.7l7.2 -7.2M475.5 296.2l7.2 7.2M475.5 303.4l7.2 -7.2M477 298.9l7.2 7.2M477 306.1l7.2 -7.2M478.4 304.2l7.2 7.2M478.4 311.4l7.2 -7.2"/><path d="M607 53.8H643.5"/><path d="M621.1 49.9l7.8 7.8M621.1 57.7l7.8 -7.8"/></g><g stroke="#56b4e9" fill="none" stroke-width="1.2"><path d="M96.1 210.1 97.5 208.3 98.9 205.4 100.3 203.9 101.7 197.5 103.1 193.9 104.5 189.6 106 185.8 107.4 184.3 108.8 178 110.2 176.7 111.6 171.4 113 167.4 114.4 165.2 115.8 165.4 117.2 161.4 118.6 155.5 120 156.5 121.4 154.4 122.9 159.1 124.3 157.5 125.7 156.4 127.1 155.4 128.5 153.8 129.9 154.5 131.3 152.4 132.7 147.2 134.1 151 135.5 147.2 136.9 148.4 138.3 146 139.8 143.7 141.2 142.1 142.6 141.4 144 139.3 145.4 136.4 146.8 139.9 148.2 137.6 149.6 137.2 151 133.3 152.4 130.6 153.8 130.6 155.2 123.7 156.7 125.8 158.1 121.7 159.5 117.3 160.9 115.1 162.3 115.3 163.7 110.7 165.1 110.2 166.5 109.1 167.9 106.7 169.3 104.1 170.7 104 172.1 102.3 173.6 101.4 175 100.3 176.4 100 177.8 98.3 179.2 99.5 180.6 99.8 182 97.4 183.4 97.8 184.8 97.9 186.2 94.4 187.6 94.2 189 96.1 190.5 96 191.9 95.1 193.3 93.4 194.7 93.9 196.1 95.2 197.5 95 198.9 94.5 200.3 92.3 201.7 94.2 203.1 92.4 204.5 93.3 205.9 91.2 207.4 93.6 208.8 92.3 210.2 92.5 211.6 90.8 213 92 214.4 91.7 215.8 91.7 217.2 90.8 218.6 91.9 220 90.5 221.4 90.2 222.8 89.7 224.3 91.3 225.7 89.3 227.1 89.6 228.5 88.9 229.9 90.7 231.3 90.3 232.7 90.1 234.1 88.4 235.5 89.5 236.9 89.1 238.3 88.2 239.7 87.8 241.1 90.8 242.6 87.9 244 88.3 245.4 88.1 246.8 89 248.2 87.2 249.6 88.4 251 87.9 252.4 89.3 253.8 86.5 255.2 87.4 256.6 87.8 258 89.2 259.5 87.6 260.9 87.4 262.3 87.8 263.7 86.5 265.1 86.1 266.5 86.9 267.9 87.6 269.3 87.1 270.7 86 272.1 86.7 273.5 86.9 274.9 85.6 276.4 86.1 277.8 85.5 279.2 85.2 280.6 85.1 282 83.7 283.4 82.7 284.8 82 286.2 82.7 287.6 82.1 289 83.4 290.4 83.1 291.8 81.9 293.3 83.4 294.7 82.2 296.1 82.7 297.5 82.9 298.9 82.4 300.3 82.3 301.7 82.6 303.1 81.9 304.5 83.4 305.9 81.8 307.3 83.2 308.7 82 310.2 82.1 311.6 82.3 313 81.6 314.4 81.7 315.8 82.2 317.2 82.3 318.6 83.1 320 83.3 321.4 81.4 322.8 82.4 324.2 81.6 325.6 82.9 327.1 107.4 328.5 110.4 329.9 111.6 331.3 112.3 332.7 112.4 334.1 113.1 335.5 114.7 336.9 113.5 338.3 114.5 339.7 114.6 341.1 114.8 342.5 116 344 115.1 345.4 116.4 346.8 116.6 348.2 117.4 349.6 116.8 351 117.7 352.4 116.9 353.8 117.4 355.2 117.7 356.6 118.3 358 118.6 359.4 117.2 360.9 117.3 362.3 118.2 363.7 118.8 365.1 118.3 366.5 117.9 367.9 119.2 369.3 118 370.7 117.6 372.1 117.6 373.5 117.6 374.9 119.1 376.3 117.9 377.8 119.2 379.2 119.5 380.6 119.8 382 119.5 383.4 118.8 384.8 119.2 386.2 134.5 387.6 148 389 151.6 390.4 159.7 391.8 168 393.2 172.7 394.6 178.4 396.1 183.7 397.5 189.5 398.9 196.2 400.3 199.9 401.7 201.9 403.1 204.4 404.5 206.1 405.9 207.4 407.3 209.8 408.7 209.7 410.1 212.1 411.5 213.3 413 213.7 414.4 216.1 415.8 216.9 417.2 217.5 418.6 247.2 420 255.9 421.4 267.1 422.8 277.6 424.2 285.1 425.6 287.8 427 290.2 428.4 291.9 429.9 294.9 431.3 295.3 432.7 298.3 434.1 298.4 435.5 299.7 436.9 302.1 438.3 302.9 439.7 305.5 441.1 306 442.5 307.4 443.9 309.2"/><path d="M92.1 210.1h8M96.1 206.1v8M92.1 206.1l8 8M92.1 214.1l8 -8M93.5 208.3h8M97.5 204.3v8M93.5 204.3l8 8M93.5 212.3l8 -8M94.9 205.4h8M98.9 201.4v8M94.9 201.4l8 8M94.9 209.4l8 -8M96.3 203.9h8M100.3 199.9v8M96.3 199.9l8 8M96.3 207.9l8 -8M97.7 197.5h8M101.7 193.5v8M97.7 193.5l8 8M97.7 201.5l8 -8M99.1 193.9h8M103.1 189.9v8M99.1 189.9l8 8M99.1 197.9l8 -8M100.5 189.6h8M104.5 185.6v8M100.5 185.6l8 8M100.5 193.6l8 -8M102 185.8h8M106 181.8v8M102 181.8l8 8M102 189.8l8 -8M103.4 184.3h8M107.4 180.3v8M103.4 180.3l8 8M103.4 188.3l8 -8M104.8 178h8M108.8 174v8M104.8 174l8 8M104.8 182l8 -8M106.2 176.7h8M110.2 172.7v8M106.2 172.7l8 8M106.2 180.7l8 -8M107.6 171.4h8M111.6 167.4v8M107.6 167.4l8 8M107.6 175.4l8 -8M109 167.4h8M113 163.4v8M109 163.4l8 8M109 171.4l8 -8M110.4 165.2h8M114.4 161.2v8M110.4 161.2l8 8M110.4 169.2l8 -8M111.8 165.4h8M115.8 161.4v8M111.8 161.4l8 8M111.8 169.4l8 -8M113.2 161.4h8M117.2 157.4v8M113.2 157.4l8 8M113.2 165.4l8 -8M114.6 155.5h8M118.6 151.5v8M114.6 151.5l8 8M114.6 159.5l8 -8M116 156.5h8M120 152.5v8M116 152.5l8 8M116 160.5l8 -8M117.4 154.4h8M121.4 150.4v8M117.4 150.4l8 8M117.4 158.4l8 -8M118.9 159.1h8M122.9 155.1v8M118.9 155.1l8 8M118.9 163.1l8 -8M120.3 157.5h8M124.3 153.5v8M120.3 153.5l8 8M120.3 161.5l8 -8M121.7 156.4h8M125.7 152.4v8M121.7 152.4l8 8M121.7 160.4l8 -8M123.1 155.4h8M127.1 151.4v8M123.1 151.4l8 8M123.1 159.4l8 -8M124.5 153.8h8M128.5 149.8v8M124.5 149.8l8 8M124.5 157.8l8 -8M125.9 154.5h8M129.9 150.5v8M125.9 150.5l8 8M125.9 158.5l8 -8M127.3 152.4h8M131.3 148.4v8M127.3 148.4l8 8M127.3 156.4l8 -8M128.7 147.2h8M132.7 143.2v8M128.7 143.2l8 8M128.7 151.2l8 -8M130.1 151h8M134.1 147v8M130.1 147l8 8M130.1 155l8 -8M131.5 147.2h8M135.5 143.2v8M131.5 143.2l8 8M131.5 151.2l8 -8M132.9 148.4h8M136.9 144.4v8M132.9 144.4l8 8M132.9 152.4l8 -8M134.3 146h8M138.3 142v8M134.3 142l8 8M134.3 150l8 -8M135.8 143.7h8M139.8 139.7v8M135.8 139.7l8 8M135.8 147.7l8 -8M137.2 142.1h8M141.2 138.1v8M137.2 138.1l8 8M137.2 146.1l8 -8M138.6 141.4h8M142.6 137.4v8M138.6 137.4l8 8M138.6 145.4l8 -8M140 139.3h8M144 135.3v8M140 135.3l8 8M140 143.3l8 -8M141.4 136.4h8M145.4 132.4v8M141.4 132.4l8 8M141.4 140.4l8 -8M142.8 139.9h8M146.8 135.9v8M142.8 135.9l8 8M142.8 143.9l8 -8M144.2 137.6h8M148.2 133.6v8M144.2 133.6l8 8M144.2 141.6l8 -8M145.6 137.2h8M149.6 133.2v8M145.6 133.2l8 8M145.6 141.2l8 -8M147 133.3h8M151 129.3v8M147 129.3l8 8M147 137.3l8 -8M148.4 130.6h8M152.4 126.6v8M148.4 126.6l8 8M148.4 134.6l8 -8M149.8 130.6h8M153.8 126.6v8M149.8 126.6l8 8M149.8 134.6l8 -8M151.2 123.7h8M155.2 119.7v8M151.2 119.7l8 8M151.2 127.7l8 -8M152.7 125.8h8M156.7 121.8v8M152.7 121.8l8 8M152.7 129.8l8 -8M154.1 121.7h8M158.1 117.7v8M154.1 117.7l8 8M154.1 125.7l8 -8M155.5 117.3h8M159.5 113.3v8M155.5 113.3l8 8M155.5 121.3l8 -8M156.9 115.1h8M160.9 111.1v8M156.9 111.1l8 8M156.9 119.1l8 -8M158.3 115.3h8M162.3 111.3v8M158.3 111.3l8 8M158.3 119.3l8 -8M159.7 110.7h8M163.7 106.7v8M159.7 106.7l8 8M159.7 114.7l8 -8M161.1 110.2h8M165.1 106.2v8M161.1 106.2l8 8M161.1 114.2l8 -8M162.5 109.1h8M166.5 105.1v8M162.5 105.1l8 8M162.5 113.1l8 -8M163.9 106.7h8M167.9 102.7v8M163.9 102.7l8 8M163.9 110.7l8 -8M165.3 104.1h8M169.3 100.1v8M165.3 100.1l8 8M165.3 108.1l8 -8M166.7 104h8M170.7 100v8M166.7 100l8 8M166.7 108l8 -8M168.1 102.3h8M172.1 98.3v8M168.1 98.3l8 8M168.1 106.3l8 -8M169.6 101.4h8M173.6 97.4v8M169.6 97.4l8 8M169.6 105.4l8 -8M171 100.3h8M175 96.3v8M171 96.3l8 8M171 104.3l8 -8M172.4 100h8M176.4 96v8M172.4 96l8 8M172.4 104l8 -8M173.8 98.3h8M177.8 94.3v8M173.8 94.3l8 8M173.8 102.3l8 -8M175.2 99.5h8M179.2 95.5v8M175.2 95.5l8 8M175.2 103.5l8 -8M176.6 99.8h8M180.6 95.8v8M176.6 95.8l8 8M176.6 103.8l8 -8M178 97.4h8M182 93.4v8M178 93.4l8 8M178 101.4l8 -8M179.4 97.8h8M183.4 93.8v8M179.4 93.8l8 8M179.4 101.8l8 -8M180.8 97.9h8M184.8 93.9v8M180.8 93.9l8 8M180.8 101.9l8 -8M182.2 94.4h8M186.2 90.4v8M182.2 90.4l8 8M182.2 98.4l8 -8M183.6 94.2h8M187.6 90.2v8M183.6 90.2l8 8M183.6 98.2l8 -8M185 96.1h8M189 92.1v8M185 92.1l8 8M185 100.1l8 -8M186.5 96h8M190.5 92v8M186.5 92l8 8M186.5 100l8 -8M187.9 95.1h8M191.9 91.1v8M187.9 91.1l8 8M187.9 99.1l8 -8M189.3 93.4h8M193.3 89.4v8M189.3 89.4l8 8M189.3 97.4l8 -8M190.7 93.9h8M194.7 89.9v8M190.7 89.9l8 8M190.7 97.9l8 -8M192.1 95.2h8M196.1 91.2v8M192.1 91.2l8 8M192.1 99.2l8 -8M193.5 95h8M197.5 91v8M193.5 91l8 8M193.5 99l8 -8M194.9 94.5h8M198.9 90.5v8M194.9 90.5l8 8M194.9 98.5l8 -8M196.3 92.3h8M200.3 88.3v8M196.3 88.3l8 8M196.3 96.3l8 -8M197.7 94.2h8M201.7 90.2v8M197.7 90.2l8 8M197.7 98.2l8 -8M199.1 92.4h8M203.1 88.4v8M199.1 88.4l8 8M199.1 96.4l8 -8M200.5 93.3h8M204.5 89.3v8M200.5 89.3l8 8M200.5 97.3l8 -8M201.9 91.2h8M205.9 87.2v8M201.9 87.2l8 8M201.9 95.2l8 -8M203.4 93.6h8M207.4 89.6v8M203.4 89.6l8 8M203.4 97.6l8 -8M204.8 92.3h8M208.8 88.3v8M204.8 88.3l8 8M204.8 96.3l8 -8M206.2 92.5h8M210.2 88.5v8M206.2 88.5l8 8M206.2 96.5l8 -8M207.6 90.8h8M211.6 86.8v8M207.6 86.8l8 8M207.6 94.8l8 -8M209 92h8M213 88v8M209 88l8 8M209 96l8 -8M210.4 91.7h8M214.4 87.7v8M210.4 87.7l8 8M210.4 95.7l8 -8M211.8 91.7h8M215.8 87.7v8M211.8 87.7l8 8M211.8 95.7l8 -8M213.2 90.8h8M217.2 86.8v8M213.2 86.8l8 8M213.2 94.8l8 -8M214.6 91.9h8M218.6 87.9v8M214.6 87.9l8 8M214.6 95.9l8 -8M216 90.5h8M220 86.5v8M216 86.5l8 8M216 94.5l8 -8M217.4 90.2h8M221.4 86.2v8M217.4 86.2l8 8M217.4 94.2l8 -8M218.8 89.7h8M222.8 85.7v8M218.8 85.7l8 8M218.8 93.7l8 -8M220.3 91.3h8M224.3 87.3v8M220.3 87.3l8 8M220.3 95.3l8 -8M221.7 89.3h8M225.7 85.3v8M221.7 85.3l8 8M221.7 93.3l8 -8M223.1 89.6h8M227.1 85.6v8M223.1 85.6l8 8M223.1 93.6l8 -8M224.5 88.9h8M228.5 84.9v8M224.5 84.9l8 8M224.5 92.9l8 -8M225.9 90.7h8M229.9 86.7v8M225.9 86.7l8 8M225.9 94.7l8 -8M227.3 90.3h8M231.3 86.3v8M227.3 86.3l8 8M227.3 94.3l8 -8M228.7 90.1h8M232.7 86.1v8M228.7 86.1l8 8M228.7 94.1l8 -8M230.1 88.4h8M234.1 84.4v8M230.1 84.4l8 8M230.1 92.4l8 -8M231.5 89.5h8M235.5 85.5v8M231.5 85.5l8 8M231.5 93.5l8 -8M232.9 89.1h8M236.9 85.1v8M232.9 85.1l8 8M232.9 93.1l8 -8M234.3 88.2h8M238.3 84.2v8M234.3 84.2l8 8M234.3 92.2l8 -8M235.7 87.8h8M239.7 83.8v8M235.7 83.8l8 8M235.7 91.8l8 -8M237.1 90.8h8M241.1 86.8v8M237.1 86.8l8 8M237.1 94.8l8 -8M238.6 87.9h8M242.6 83.9v8M238.6 83.9l8 8M238.6 91.9l8 -8M240 88.3h8M244 84.3v8M240 84.3l8 8M240 92.3l8 -8M241.4 88.1h8M245.4 84.1v8M241.4 84.1l8 8M241.4 92.1l8 -8M242.8 89h8M246.8 85v8M242.8 85l8 8M242.8 93l8 -8M244.2 87.2h8M248.2 83.2v8M244.2 83.2l8 8M244.2 91.2l8 -8M245.6 88.4h8M249.6 84.4v8M245.6 84.4l8 8M245.6 92.4l8 -8M247 87.9h8M251 83.9v8M247 83.9l8 8M247 91.9l8 -8M248.4 89.3h8M252.4 85.3v8M248.4 85.3l8 8M248.4 93.3l8 -8M249.8 86.5h8M253.8 82.5v8M249.8 82.5l8 8M249.8 90.5l8 -8M251.2 87.4h8M255.2 83.4v8M251.2 83.4l8 8M251.2 91.4l8 -8M252.6 87.8h8M256.6 83.8v8M252.6 83.8l8 8M252.6 91.8l8 -8M254 89.2h8M258 85.2v8M254 85.2l8 8M254 93.2l8 -8M255.5 87.6h8M259.5 83.6v8M255.5 83.6l8 8M255.5 91.6l8 -8M256.9 87.4h8M260.9 83.4v8M256.9 83.4l8 8M256.9 91.4l8 -8M258.3 87.8h8M262.3 83.8v8M258.3 83.8l8 8M258.3 91.8l8 -8M259.7 86.5h8M263.7 82.5v8M259.7 82.5l8 8M259.7 90.5l8 -8M261.1 86.1h8M265.1 82.1v8M261.1 82.1l8 8M261.1 90.1l8 -8M262.5 86.9h8M266.5 82.9v8M262.5 82.9l8 8M262.5 90.9l8 -8M263.9 87.6h8M267.9 83.6v8M263.9 83.6l8 8M263.9 91.6l8 -8M265.3 87.1h8M269.3 83.1v8M265.3 83.1l8 8M265.3 91.1l8 -8M266.7 86h8M270.7 82v8M266.7 82l8 8M266.7 90l8 -8M268.1 86.7h8M272.1 82.7v8M268.1 82.7l8 8M268.1 90.7l8 -8M269.5 86.9h8M273.5 82.9v8M269.5 82.9l8 8M269.5 90.9l8 -8M270.9 85.6h8M274.9 81.6v8M270.9 81.6l8 8M270.9 89.6l8 -8M272.4 86.1h8M276.4 82.1v8M272.4 82.1l8 8M272.4 90.1l8 -8M273.8 85.5h8M277.8 81.5v8M273.8 81.5l8 8M273.8 89.5l8 -8M275.2 85.2h8M279.2 81.2v8M275.2 81.2l8 8M275.2 89.2l8 -8M276.6 85.1h8M280.6 81.1v8M276.6 81.1l8 8M276.6 89.1l8 -8M278 83.7h8M282 79.7v8M278 79.7l8 8M278 87.7l8 -8M279.4 82.7h8M283.4 78.7v8M279.4 78.7l8 8M279.4 86.7l8 -8M280.8 82h8M284.8 78v8M280.8 78l8 8M280.8 86l8 -8M282.2 82.7h8M286.2 78.7v8M282.2 78.7l8 8M282.2 86.7l8 -8M283.6 82.1h8M287.6 78.1v8M283.6 78.1l8 8M283.6 86.1l8 -8M285 83.4h8M289 79.4v8M285 79.4l8 8M285 87.4l8 -8M286.4 83.1h8M290.4 79.1v8M286.4 79.1l8 8M286.4 87.1l8 -8M287.8 81.9h8M291.8 77.9v8M287.8 77.9l8 8M287.8 85.9l8 -8M289.3 83.4h8M293.3 79.4v8M289.3 79.4l8 8M289.3 87.4l8 -8M290.7 82.2h8M294.7 78.2v8M290.7 78.2l8 8M290.7 86.2l8 -8M292.1 82.7h8M296.1 78.7v8M292.1 78.7l8 8M292.1 86.7l8 -8M293.5 82.9h8M297.5 78.9v8M293.5 78.9l8 8M293.5 86.9l8 -8M294.9 82.4h8M298.9 78.4v8M294.9 78.4l8 8M294.9 86.4l8 -8M296.3 82.3h8M300.3 78.3v8M296.3 78.3l8 8M296.3 86.3l8 -8M297.7 82.6h8M301.7 78.6v8M297.7 78.6l8 8M297.7 86.6l8 -8M299.1 81.9h8M303.1 77.9v8M299.1 77.9l8 8M299.1 85.9l8 -8M300.5 83.4h8M304.5 79.4v8M300.5 79.4l8 8M300.5 87.4l8 -8M301.9 81.8h8M305.9 77.8v8M301.9 77.8l8 8M301.9 85.8l8 -8M303.3 83.2h8M307.3 79.2v8M303.3 79.2l8 8M303.3 87.2l8 -8M304.7 82h8M308.7 78v8M304.7 78l8 8M304.7 86l8 -8M306.2 82.1h8M310.2 78.1v8M306.2 78.1l8 8M306.2 86.1l8 -8M307.6 82.3h8M311.6 78.3v8M307.6 78.3l8 8M307.6 86.3l8 -8M309 81.6h8M313 77.6v8M309 77.6l8 8M309 85.6l8 -8M310.4 81.7h8M314.4 77.7v8M310.4 77.7l8 8M310.4 85.7l8 -8M311.8 82.2h8M315.8 78.2v8M311.8 78.2l8 8M311.8 86.2l8 -8M313.2 82.3h8M317.2 78.3v8M313.2 78.3l8 8M313.2 86.3l8 -8M314.6 83.1h8M318.6 79.1v8M314.6 79.1l8 8M314.6 87.1l8 -8M316 83.3h8M320 79.3v8M316 79.3l8 8M316 87.3l8 -8M317.4 81.4h8M321.4 77.4v8M317.4 77.4l8 8M317.4 85.4l8 -8M318.8 82.4h8M322.8 78.4v8M318.8 78.4l8 8M318.8 86.4l8 -8M320.2 81.6h8M324.2 77.6v8M320.2 77.6l8 8M320.2 85.6l8 -8M321.6 82.9h8M325.6 78.9v8M321.6 78.9l8 8M321.6 86.9l8 -8M323.1 107.4h8M327.1 103.4v8M323.1 103.4l8 8M323.1 111.4l8 -8M324.5 110.4h8M328.5 106.4v8M324.5 106.4l8 8M324.5 114.4l8 -8M325.9 111.6h8M329.9 107.6v8M325.9 107.6l8 8M325.9 115.6l8 -8M327.3 112.3h8M331.3 108.3v8M327.3 108.3l8 8M327.3 116.3l8 -8M328.7 112.4h8M332.7 108.4v8M328.7 108.4l8 8M328.7 116.4l8 -8M330.1 113.1h8M334.1 109.1v8M330.1 109.1l8 8M330.1 117.1l8 -8M331.5 114.7h8M335.5 110.7v8M331.5 110.7l8 8M331.5 118.7l8 -8M332.9 113.5h8M336.9 109.5v8M332.9 109.5l8 8M332.9 117.5l8 -8M334.3 114.5h8M338.3 110.5v8M334.3 110.5l8 8M334.3 118.5l8 -8M335.7 114.6h8M339.7 110.6v8M335.7 110.6l8 8M335.7 118.6l8 -8M337.1 114.8h8M341.1 110.8v8M337.1 110.8l8 8M337.1 118.8l8 -8M338.5 116h8M342.5 112v8M338.5 112l8 8M338.5 120l8 -8M340 115.1h8M344 111.1v8M340 111.1l8 8M340 119.1l8 -8M341.4 116.4h8M345.4 112.4v8M341.4 112.4l8 8M341.4 120.4l8 -8M342.8 116.6h8M346.8 112.6v8M342.8 112.6l8 8M342.8 120.6l8 -8M344.2 117.4h8M348.2 113.4v8M344.2 113.4l8 8M344.2 121.4l8 -8M345.6 116.8h8M349.6 112.8v8M345.6 112.8l8 8M345.6 120.8l8 -8M347 117.7h8M351 113.7v8M347 113.7l8 8M347 121.7l8 -8M348.4 116.9h8M352.4 112.9v8M348.4 112.9l8 8M348.4 120.9l8 -8M349.8 117.4h8M353.8 113.4v8M349.8 113.4l8 8M349.8 121.4l8 -8M351.2 117.7h8M355.2 113.7v8M351.2 113.7l8 8M351.2 121.7l8 -8M352.6 118.3h8M356.6 114.3v8M352.6 114.3l8 8M352.6 122.3l8 -8M354 118.6h8M358 114.6v8M354 114.6l8 8M354 122.6l8 -8M355.4 117.2h8M359.4 113.2v8M355.4 113.2l8 8M355.4 121.2l8 -8M356.9 117.3h8M360.9 113.3v8M356.9 113.3l8 8M356.9 121.3l8 -8M358.3 118.2h8M362.3 114.2v8M358.3 114.2l8 8M358.3 122.2l8 -8M359.7 118.8h8M363.7 114.8v8M359.7 114.8l8 8M359.7 122.8l8 -8M361.1 118.3h8M365.1 114.3v8M361.1 114.3l8 8M361.1 122.3l8 -8M362.5 117.9h8M366.5 113.9v8M362.5 113.9l8 8M362.5 121.9l8 -8M363.9 119.2h8M367.9 115.2v8M363.9 115.2l8 8M363.9 123.2l8 -8M365.3 118h8M369.3 114v8M365.3 114l8 8M365.3 122l8 -8M366.7 117.6h8M370.7 113.6v8M366.7 113.6l8 8M366.7 121.6l8 -8M368.1 117.6h8M372.1 113.6v8M368.1 113.6l8 8M368.1 121.6l8 -8M369.5 117.6h8M373.5 113.6v8M369.5 113.6l8 8M369.5 121.6l8 -8M370.9 119.1h8M374.9 115.1v8M370.9 115.1l8 8M370.9 123.1l8 -8M372.3 117.9h8M376.3 113.9v8M372.3 113.9l8 8M372.3 121.9l8 -8M373.8 119.2h8M377.8 115.2v8M373.8 115.2l8 8M373.8 123.2l8 -8M375.2 119.5h8M379.2 115.5v8M375.2 115.5l8 8M375.2 123.5l8 -8M376.6 119.8h8M380.6 115.8v8M376.6 115.8l8 8M376.6 123.8l8 -8M378 119.5h8M382 115.5v8M378 115.5l8 8M378 123.5l8 -8M379.4 118.8h8M383.4 114.8v8M379.4 114.8l8 8M379.4 122.8l8 -8M380.8 119.2h8M384.8 115.2v8M380.8 115.2l8 8M380.8 123.2l8 -8M382.2 134.5h8M386.2 130.5v8M382.2 130.5l8 8M382.2 138.5l8 -8M383.6 148h8M387.6 144v8M383.6 144l8 8M383.6 152l8 -8M385 151.6h8M389 147.6v8M385 147.6l8 8M385 155.6l8 -8M386.4 159.7h8M390.4 155.7v8M386.4 155.7l8 8M386.4 163.7l8 -8M387.8 168h8M391.8 164v8M387.8 164l8 8M387.8 172l8 -8M389.2 172.7h8M393.2 168.7v8M389.2 168.7l8 8M389.2 176.7l8 -8M390.6 178.4h8M394.6 174.4v8M390.6 174.4l8 8M390.6 182.4l8 -8M392.1 183.7h8M396.1 179.7v8M392.1 179.7l8 8M392.1 187.7l8 -8M393.5 189.5h8M397.5 185.5v8M393.5 185.5l8 8M393.5 193.5l8 -8M394.9 196.2h8M398.9 192.2v8M394.9 192.2l8 8M394.9 200.2l8 -8M396.3 199.9h8M400.3 195.9v8M396.3 195.9l8 8M396.3 203.9l8 -8M397.7 201.9h8M401.7 197.9v8M397.7 197.9l8 8M397.7 205.9l8 -8M399.1 204.4h8M403.1 200.4v8M399.1 200.4l8 8M399.1 208.4l8 -8M400.5 206.1h8M404.5 202.1v8M400.5 202.1l8 8M400.5 210.1l8 -8M401.9 207.4h8M405.9 203.4v8M401.9 203.4l8 8M401.9 211.4l8 -8M403.3 209.8h8M407.3 205.8v8M403.3 205.8l8 8M403.3 213.8l8 -8M404.7 209.7h8M408.7 205.7v8M404.7 205.7l8 8M404.7 213.7l8 -8M406.1 212.1h8M410.1 208.1v8M406.1 208.1l8 8M406.1 216.1l8 -8M407.5 213.3h8M411.5 209.3v8M407.5 209.3l8 8M407.5 217.3l8 -8M409 213.7h8M413 209.7v8M409 209.7l8 8M409 217.7l8 -8M410.4 216.1h8M414.4 212.1v8M410.4 212.1l8 8M410.4 220.1l8 -8M411.8 216.9h8M415.8 212.9v8M411.8 212.9l8 8M411.8 220.9l8 -8M413.2 217.5h8M417.2 213.5v8M413.2 213.5l8 8M413.2 221.5l8 -8M414.6 247.2h8M418.6 243.2v8M414.6 243.2l8 8M414.6 251.2l8 -8M416 255.9h8M420 251.9v8M416 251.9l8 8M416 259.9l8 -8M417.4 267.1h8M421.4 263.1v8M417.4 263.1l8 8M417.4 271.1l8 -8M418.8 277.6h8M422.8 273.6v8M418.8 273.6l8 8M418.8 281.6l8 -8M420.2 285.1h8M424.2 281.1v8M420.2 281.1l8 8M420.2 289.1l8 -8M421.6 287.8h8M425.6 283.8v8M421.6 283.8l8 8M421.6 291.8l8 -8M423 290.2h8M427 286.2v8M423 286.2l8 8M423 294.2l8 -8M424.4 291.9h8M428.4 287.9v8M424.4 287.9l8 8M424.4 295.9l8 -8M425.9 294.9h8M429.9 290.9v8M425.9 290.9l8 8M425.9 298.9l8 -8M427.3 295.3h8M431.3 291.3v8M427.3 291.3l8 8M427.3 299.3l8 -8M428.7 298.3h8M432.7 294.3v8M428.7 294.3l8 8M428.7 302.3l8 -8M430.1 298.4h8M434.1 294.4v8M430.1 294.4l8 8M430.1 302.4l8 -8M431.5 299.7h8M435.5 295.7v8M431.5 295.7l8 8M431.5 303.7l8 -8M432.9 302.1h8M436.9 298.1v8M432.9 298.1l8 8M432.9 306.1l8 -8M434.3 302.9h8M438.3 298.9v8M434.3 298.9l8 8M434.3 306.9l8 -8M435.7 305.5h8M439.7 301.5v8M435.7 301.5l8 8M435.7 309.5l8 -8M437.1 306h8M441.1 302v8M437.1 302l8 8M437.1 310l8 -8M438.5 307.4h8M442.5 303.4v8M438.5 303.4l8 8M438.5 311.4l8 -8M439.9 309.2h8M443.9 305.2v8M439.9 305.2l8 8M439.9 313.2l8 -8"/><path d="M607 71.5H643.5"/><path d="M620.7 71.5h8.6M625 67.2v8.6M620.7 67.2l8.6 8.6M620.7 75.8l8.6 -8.6"/></g><g stroke="#e69f00" fill="none" stroke-width="1.2"><path d="M96.1 269.2 97.5 266.3 98.9 259.2 100.3 256.7 101.7 247.6 103.1 240.3 104.5 237.5 106 234.8 107.4 232.7 108.8 226.3 110.2 213.4 111.6 214 113 211.5 114.4 211.2 115.8 212.7 117.2 210.4 118.6 209.3 120 210.1 121.4 208.7 122.9 206.4 124.3 206.8 125.7 206.3 127.1 203.9 128.5 204 129.9 201 131.3 200.2 132.7 198 134.1 197 135.5 197.9 136.9 194.8 138.3 195.5 139.8 192.7 141.2 192.2 142.6 191.9 144 190.3 145.4 187.5 146.8 187.9 148.2 185 149.6 180.3 151 176.7 152.4 176.4 153.8 172.7 155.2 169.4 156.7 169.2 158.1 167.5 159.5 168.3 160.9 166.5 162.3 164.6 163.7 166 165.1 163.1 166.5 162.5 167.9 159.6 169.3 159.5 170.7 152.8 172.1 148.4 173.6 136.3 175 133.4 176.4 131 177.8 124.3 179.2 122.7 180.6 121.4 182 119.5 183.4 118.2 184.8 114.9 186.2 114.2 187.6 111.7 189 112.8 190.5 112.7 191.9 109.7 193.3 109.5 194.7 110.8 196.1 110.1 197.5 108 198.9 109.7 200.3 110 201.7 108.1 203.1 107.5 204.5 107.5 205.9 108 207.4 105.4 208.8 104.9 210.2 103.9 211.6 104.6 213 103.5 214.4 102.3 215.8 102.1 217.2 100.4 218.6 100.6 220 102 221.4 100.2 222.8 98.6 224.3 100 225.7 97.6 227.1 96.7 228.5 95.5 229.9 95.6 231.3 95.5 232.7 95.4 234.1 97 235.5 95 236.9 95 238.3 95.3 239.7 95.6 241.1 94.3 242.6 94.9 244 94.2 245.4 94.5 246.8 94.5 248.2 95 249.6 94.6 251 94.2 252.4 94.6 253.8 93.8 255.2 93.8 256.6 94.7 258 93.9 259.5 94.2 260.9 93.5 262.3 94.4 263.7 93.8 265.1 93.2 266.5 94.2 267.9 93.4 269.3 93.1 270.7 92.9 272.1 92.6 273.5 92.7 274.9 93.5 276.4 92.5 277.8 92.6 279.2 92.9 280.6 93 282 92.7 283.4 93.2 284.8 92.3 286.2 92.5 287.6 92.5 289 91.9 290.4 92 291.8 91.8 293.3 92.6 294.7 91.6 296.1 92.4 297.5 91.6 298.9 92.2 300.3 92.1 301.7 91.5 303.1 92.3 304.5 91.8 305.9 91.5 307.3 90.6 308.7 91.1 310.2 90.8 311.6 91 313 91.7 314.4 91.5 315.8 90.1 317.2 91 318.6 91.3 320 90.6 321.4 89.8 322.8 90.9 324.2 90.1 325.6 90.9 327.1 90.7 328.5 96.3 329.9 110.8 331.3 109.7 332.7 111.2 334.1 110.8 335.5 110.9 336.9 111.6 338.3 112.3 339.7 111.7 341.1 112.7 342.5 113.6 344 113.5 345.4 113.9 346.8 113.9 348.2 115.3 349.6 114.5 351 115.5 352.4 115.8 353.8 115 355.2 116.7 356.6 115.6 358 116.9 359.4 116.9 360.9 117 362.3 117 363.7 116.4 365.1 116.6 366.5 116.5 367.9 117.5 369.3 116.2 370.7 116.5 372.1 117.9 373.5 117.7 374.9 117.7 376.3 118.2 377.8 117.6 379.2 118.2 380.6 117.7 382 118.5 383.4 117.3 384.8 118 386.2 118.3 387.6 118.7 389 118.2 390.4 118.8 391.8 119.3 393.2 137.7 394.6 141.6 396.1 146.6 397.5 152.2 398.9 161.9 400.3 162.7 401.7 163.9 403.1 164 404.5 164.4 405.9 164.6 407.3 164.8 408.7 165.9 410.1 179.6 411.5 183.4 413 188.7 414.4 200.4 415.8 200.1 417.2 201.7 418.6 202.3 420 202.8 421.4 203.6 422.8 203.5 424.2 203.6 425.6 204.9 427 205.1 428.4 205.6 429.9 205.2 431.3 207.4 432.7 210.7 434.1 213.1 435.5 221.9 436.9 236.7 438.3 237.1 439.7 236.5 441.1 236.7 442.5 237.2 443.9 236.4 445.3 236.2 446.8 236.9 448.2 236.1 449.6 237.3 451 236.3 452.4 237.3 453.8 236.8 455.2 236.1 456.6 248.9 458 251.1 459.4 252.7 460.8 255 462.2 256.5 463.7 285.7 465.1 293 466.5 299.6 467.9 301 469.3 303.9 470.7 304.7 472.1 305.5 473.5 306.8 474.9 307.3"/><path d="M92.6 265.7h7v7h-7zM94 262.8h7v7h-7zM95.4 255.7h7v7h-7zM96.8 253.2h7v7h-7zM98.2 244.1h7v7h-7zM99.6 236.8h7v7h-7zM101 234h7v7h-7zM102.5 231.3h7v7h-7zM103.9 229.2h7v7h-7zM105.3 222.8h7v7h-7zM106.7 209.9h7v7h-7zM108.1 210.5h7v7h-7zM109.5 208h7v7h-7zM110.9 207.7h7v7h-7zM112.3 209.2h7v7h-7zM113.7 206.9h7v7h-7zM115.1 205.8h7v7h-7zM116.5 206.6h7v7h-7zM117.9 205.2h7v7h-7zM119.4 202.9h7v7h-7zM120.8 203.3h7v7h-7zM122.2 202.8h7v7h-7zM123.6 200.4h7v7h-7zM125 200.5h7v7h-7zM126.4 197.5h7v7h-7zM127.8 196.7h7v7h-7zM129.2 194.5h7v7h-7zM130.6 193.5h7v7h-7zM132 194.4h7v7h-7zM133.4 191.3h7v7h-7zM134.8 192h7v7h-7zM136.3 189.2h7v7h-7zM137.7 188.7h7v7h-7zM139.1 188.4h7v7h-7zM140.5 186.8h7v7h-7zM141.9 184h7v7h-7zM143.3 184.4h7v7h-7zM144.7 181.5h7v7h-7zM146.1 176.8h7v7h-7zM147.5 173.2h7v7h-7zM148.9 172.9h7v7h-7zM150.3 169.2h7v7h-7zM151.7 165.9h7v7h-7zM153.2 165.7h7v7h-7zM154.6 164h7v7h-7zM156 164.8h7v7h-7zM157.4 163h7v7h-7zM158.8 161.1h7v7h-7zM160.2 162.5h7v7h-7zM161.6 159.6h7v7h-7zM163 159h7v7h-7zM164.4 156.1h7v7h-7zM165.8 156h7v7h-7zM167.2 149.3h7v7h-7zM168.6 144.9h7v7h-7zM170.1 132.8h7v7h-7zM171.5 129.9h7v7h-7zM172.9 127.5h7v7h-7zM174.3 120.8h7v7h-7zM175.7 119.2h7v7h-7zM177.1 117.9h7v7h-7zM178.5 116h7v7h-7zM179.9 114.7h7v7h-7zM181.3 111.4h7v7h-7zM182.7 110.7h7v7h-7zM184.1 108.2h7v7h-7zM185.5 109.3h7v7h-7zM187 109.2h7v7h-7zM188.4 106.2h7v7h-7zM189.8 106h7v7h-7zM191.2 107.3h7v7h-7zM192.6 106.6h7v7h-7zM194 104.5h7v7h-7zM195.4 106.2h7v7h-7zM196.8 106.5h7v7h-7zM198.2 104.6h7v7h-7zM199.6 104h7v7h-7zM201 104h7v7h-7zM202.4 104.5h7v7h-7zM203.9 101.9h7v7h-7zM205.3 101.4h7v7h-7zM206.7 100.4h7v7h-7zM208.1 101.1h7v7h-7zM209.5 100h7v7h-7zM210.9 98.8h7v7h-7zM212.3 98.6h7v7h-7zM213.7 96.9h7v7h-7zM215.1 97.1h7v7h-7zM216.5 98.5h7v7h-7zM217.9 96.7h7v7h-7zM219.3 95.1h7v7h-7zM220.8 96.5h7v7h-7zM222.2 94.1h7v7h-7zM223.6 93.2h7v7h-7zM225 92h7v7h-7zM226.4 92.1h7v7h-7zM227.8 92h7v7h-7zM229.2 91.9h7v7h-7zM230.6 93.5h7v7h-7zM232 91.5h7v7h-7zM233.4 91.5h7v7h-7zM234.8 91.8h7v7h-7zM236.2 92.1h7v7h-7zM237.6 90.8h7v7h-7zM239.1 91.4h7v7h-7zM240.5 90.7h7v7h-7zM241.9 91h7v7h-7zM243.3 91h7v7h-7zM244.7 91.5h7v7h-7zM246.1 91.1h7v7h-7zM247.5 90.7h7v7h-7zM248.9 91.1h7v7h-7zM250.3 90.3h7v7h-7zM251.7 90.3h7v7h-7zM253.1 91.2h7v7h-7zM254.5 90.4h7v7h-7zM256 90.7h7v7h-7zM257.4 90h7v7h-7zM258.8 90.9h7v7h-7zM260.2 90.3h7v7h-7zM261.6 89.7h7v7h-7zM263 90.7h7v7h-7zM264.4 89.9h7v7h-7zM265.8 89.6h7v7h-7zM267.2 89.4h7v7h-7zM268.6 89.1h7v7h-7zM270 89.2h7v7h-7zM271.4 90h7v7h-7zM272.9 89h7v7h-7zM274.3 89.1h7v7h-7zM275.7 89.4h7v7h-7zM277.1 89.5h7v7h-7zM278.5 89.2h7v7h-7zM279.9 89.7h7v7h-7zM281.3 88.8h7v7h-7zM282.7 89h7v7h-7zM284.1 89h7v7h-7zM285.5 88.4h7v7h-7zM286.9 88.5h7v7h-7zM288.3 88.3h7v7h-7zM289.8 89.1h7v7h-7zM291.2 88.1h7v7h-7zM292.6 88.9h7v7h-7zM294 88.1h7v7h-7zM295.4 88.7h7v7h-7zM296.8 88.6h7v7h-7zM298.2 88h7v7h-7zM299.6 88.8h7v7h-7zM301 88.3h7v7h-7zM302.4 88h7v7h-7zM303.8 87.1h7v7h-7zM305.2 87.6h7v7h-7zM306.7 87.3h7v7h-7zM308.1 87.5h7v7h-7zM309.5 88.2h7v7h-7zM310.9 88h7v7h-7zM312.3 86.6h7v7h-7zM313.7 87.5h7v7h-7zM315.1 87.8h7v7h-7zM316.5 87.1h7v7h-7zM317.9 86.3h7v7h-7zM319.3 87.4h7v7h-7zM320.7 86.6h7v7h-7zM322.1 87.4h7v7h-7zM323.6 87.2h7v7h-7zM325 92.8h7v7h-7zM326.4 107.3h7v7h-7zM327.8 106.2h7v7h-7zM329.2 107.7h7v7h-7zM330.6 107.3h7v7h-7zM332 107.4h7v7h-7zM333.4 108.1h7v7h-7zM334.8 108.8h7v7h-7zM336.2 108.2h7v7h-7zM337.6 109.2h7v7h-7zM339 110.1h7v7h-7zM340.5 110h7v7h-7zM341.9 110.4h7v7h-7zM343.3 110.4h7v7h-7zM344.7 111.8h7v7h-7zM346.1 111h7v7h-7zM347.5 112h7v7h-7zM348.9 112.3h7v7h-7zM350.3 111.5h7v7h-7zM351.7 113.2h7v7h-7zM353.1 112.1h7v7h-7zM354.5 113.4h7v7h-7zM355.9 113.4h7v7h-7zM357.4 113.5h7v7h-7zM358.8 113.5h7v7h-7zM360.2 112.9h7v7h-7zM361.6 113.1h7v7h-7zM363 113h7v7h-7zM364.4 114h7v7h-7zM365.8 112.7h7v7h-7zM367.2 113h7v7h-7zM368.6 114.4h7v7h-7zM370 114.2h7v7h-7zM371.4 114.2h7v7h-7zM372.8 114.7h7v7h-7zM374.2 114.1h7v7h-7zM375.7 114.7h7v7h-7zM377.1 114.2h7v7h-7zM378.5 115h7v7h-7zM379.9 113.8h7v7h-7zM381.3 114.5h7v7h-7zM382.7 114.8h7v7h-7zM384.1 115.2h7v7h-7zM385.5 114.7h7v7h-7zM386.9 115.3h7v7h-7zM388.3 115.8h7v7h-7zM389.7 134.2h7v7h-7zM391.1 138.1h7v7h-7zM392.6 143.1h7v7h-7zM394 148.7h7v7h-7zM395.4 158.4h7v7h-7zM396.8 159.2h7v7h-7zM398.2 160.4h7v7h-7zM399.6 160.5h7v7h-7zM401 160.9h7v7h-7zM402.4 161.1h7v7h-7zM403.8 161.3h7v7h-7zM405.2 162.4h7v7h-7zM406.6 176.1h7v7h-7zM408 179.9h7v7h-7zM409.5 185.2h7v7h-7zM410.9 196.9h7v7h-7zM412.3 196.6h7v7h-7zM413.7 198.2h7v7h-7zM415.1 198.8h7v7h-7zM416.5 199.3h7v7h-7zM417.9 200.1h7v7h-7zM419.3 200h7v7h-7zM420.7 200.1h7v7h-7zM422.1 201.4h7v7h-7zM423.5 201.6h7v7h-7zM424.9 202.1h7v7h-7zM426.4 201.7h7v7h-7zM427.8 203.9h7v7h-7zM429.2 207.2h7v7h-7zM430.6 209.6h7v7h-7zM432 218.4h7v7h-7zM433.4 233.2h7v7h-7zM434.8 233.6h7v7h-7zM436.2 233h7v7h-7zM437.6 233.2h7v7h-7zM439 233.7h7v7h-7zM440.4 232.9h7v7h-7zM441.8 232.7h7v7h-7zM443.3 233.4h7v7h-7zM444.7 232.6h7v7h-7zM446.1 233.8h7v7h-7zM447.5 232.8h7v7h-7zM448.9 233.8h7v7h-7zM450.3 233.3h7v7h-7zM451.7 232.6h7v7h-7zM453.1 245.4h7v7h-7zM454.5 247.6h7v7h-7zM455.9 249.2h7v7h-7zM457.3 251.5h7v7h-7zM458.7 253h7v7h-7zM460.2 282.2h7v7h-7zM461.6 289.5h7v7h-7zM463 296.1h7v7h-7zM464.4 297.5h7v7h-7zM465.8 300.4h7v7h-7zM467.2 301.2h7v7h-7zM468.6 302h7v7h-7zM470 303.3h7v7h-7zM471.4 303.8h7v7h-7z"/><path d="M607 89H643.5"/><path d="M621.2 85.2h7.6v7.6h-7.6z"/></g><g stroke="#0072b2" fill="none" stroke-width="1.2"><path d="M96.1 198.2 97.5 196.1 98.9 196 100.3 194.4 101.7 194.4 103.1 192.3 104.5 192.5 106 178.1 107.4 163.8 108.8 161.5 110.2 158.1 111.6 155.5 113 152.9 114.4 149.3 115.8 146.6 117.2 133.7 118.6 129.8 120 126.3 121.4 122 122.9 116.9 124.3 113 125.7 110 127.1 92.5 128.5 89.1 129.9 87 131.3 84.2 132.7 81.2 134.1 77.1 135.5 63.4 136.9 59.2 138.3 56.9 139.8 54.5 141.2 52.8 142.6 51.3 144 49.9 145.4 49.7 146.8 47.8 148.2 47.4 149.6 47 151 47.5 152.4 46.8 153.8 46.5 155.2 45.7 156.7 45.8 158.1 46.1 159.5 45 160.9 44.9 162.3 44.8 163.7 45.5 165.1 48.9 166.5 86.2 167.9 86.4 169.3 86.8 170.7 86.8 172.1 88 173.6 87.6 175 87.7 176.4 119.9 177.8 120.9 179.2 120.7 180.6 121.8 182 121.5 183.4 122 184.8 121.9 186.2 124.2 187.6 125.5 189 126.5 190.5 127.5 191.9 129.3 193.3 130.3 194.7 132 196.1 133.3 197.5 134.2 198.9 135.3 200.3 139.8 201.7 149.5 203.1 156.6 204.5 161.3 205.9 166.7 207.4 170.7 208.8 174.7 210.2 177.5 211.6 181.3 213 185.9 214.4 189.7 215.8 193.7 217.2 198 218.6 200.4 220 202.9 221.4 205 222.8 206.6 224.3 207.4 225.7 208.6 227.1 209.7 228.5 210.4 229.9 211.3 231.3 212.5 232.7 213.6 234.1 214.5 235.5 215.2 236.9 216.6 238.3 217.6 239.7 218.6 241.1 219.3 242.6 219.1 244 220.2 245.4 220.5 246.8 221.1 248.2 221.8 249.6 222.1 251 222.7 252.4 223.9 253.8 223.9 255.2 224.9 256.6 225.3 258 225.6 259.5 226.1 260.9 226.9 262.3 227.9 263.7 228.7 265.1 229.5 266.5 230.7 267.9 232.3 269.3 233.3 270.7 233.8 272.1 235.5 273.5 236.4 274.9 237.2 276.4 238.7 277.8 239.2 279.2 240.2 280.6 241.5 282 242.9 283.4 243.8 284.8 244.8 286.2 246.9 287.6 248.4 289 250.6 290.4 251.9 291.8 254.4 293.3 254.8 294.7 255.4 296.1 255.7 297.5 255.7 298.9 255.9 300.3 256 301.7 256.4 303.1 256.5 304.5 257 305.9 258 307.3 258.7 308.7 259.1 310.2 260.1 311.6 260.3 313 260.3 314.4 261 315.8 261.4 317.2 261.3 318.6 262 320 262.4 321.4 262.4 322.8 262.6 324.2 263.5 325.6 264.3 327.1 265.4 328.5 266.9 329.9 267.1 331.3 268.7 332.7 269.4 334.1 270.5 335.5 270.8 336.9 272.2 338.3 272.3 339.7 272.7 341.1 272.9 342.5 272.9 344 272.8 345.4 273.2 346.8 272.7 348.2 272.7 349.6 273.3 351 272.8 352.4 273.1 353.8 273.2 355.2 273.6 356.6 273.3 358 273.5 359.4 273.5 360.9 273.5 362.3 273.6 363.7 273.7 365.1 273.8 366.5 273.8 367.9 273.8 369.3 274.3 370.7 274.4 372.1 273.9 373.5 274.5 374.9 273.9 376.3 274.2 377.8 274.7 379.2 274.2 380.6 274.7 382 275 383.4 274.8 384.8 274.7 386.2 274.4 387.6 274.8 389 274.9 390.4 275.2 391.8 274.9 393.2 275.3 394.6 275 396.1 275.2 397.5 275.3 398.9 274.9 400.3 275.5 401.7 275.2 403.1 275.2 404.5 275.6 405.9 275.3 407.3 275.3 408.7 275.1 410.1 275.1 411.5 275.6 413 275.4 414.4 275.5 415.8 275.6 417.2 275.6 418.6 275.3 420 275.8 421.4 275.5 422.8 275.2 424.2 275.8 425.6 275.8 427 275.2 428.4 275.8 429.9 275.7 431.3 275.3 432.7 275.6 434.1 275.8 435.5 275.2 436.9 275.6 438.3 275.3 439.7 275.2 441.1 275.9 442.5 275.9 443.9 275.6 445.3 275.7 446.8 275.4 448.2 275.4 449.6 275.6 451 275.8 452.4 275.7 453.8 275.5 455.2 275.6 456.6 275.4 458 276.2 459.4 276.8 460.8 277.2 462.2 277.3 463.7 277.8 465.1 278.8 466.5 278.8 467.9 279.5 469.3 279.5 470.7 279.9 472.1 280.4 473.5 281.2 474.9 281.2 476.3 282 477.7 282 479.1 282.9 480.6 283.3 482 283.4 483.4 283.8 484.8 283.9 486.2 284.1 487.6 283.9 489 284 490.4 284.5 491.8 284.7 493.2 284.1 494.6 284.5 496 284.7 497.5 285 498.9 284.7 500.3 284.7 501.7 285 503.1 285.1 504.5 285.1 505.9 285 507.3 285.3 508.7 284.7 510.1 285.3 511.5 285 512.9 285.1 514.4 285.2 515.8 285.4 517.2 285.5 518.6 285.6 520 285.5 521.4 285.7 522.8 286.1 524.2 286.4 525.6 286.1 527 285.9 528.4 286.7 529.8 286.9 531.2 286.9 532.7 286.9 534.1 286.8 535.5 286.7 536.9 287.5 538.3 287.2 539.7 287.1 541.1 287.6 542.5 287.3 543.9 287.7 545.3 288 546.7 288.3 548.1 288 549.6 288 551 288.3 552.4 288.8 553.8 288.4 555.2 288.5 556.6 288.8 558 289.5 559.4 289.6 560.8 289.8 562.2 289.2 563.6 289.7 565 289.5 566.5 290 567.9 290.3 569.3 290.1 570.7 290.4 572.1 290.4 573.5 290.4 574.9 290.3 576.3 290.3 577.7 290.7 579.1 291 580.5 291.1 581.9 291.1 583.4 291.1 584.8 291 586.2 291 587.6 290.8 589 291.4 590.4 291 591.8 291.6 593.2 291.6 594.6 291.3 596 291.8 597.4 291.8 598.8 291.9 600.3 291.4 601.7 291.7 603.1 291.7 604.5 292.5 605.9 292.1 607.3 292.4 608.7 292.8 610.1 292.6 611.5 293 612.9 293.1 614.3 293 615.7 293.6 617.2 293.6 618.6 293.7 620 293.9 621.4 293.9 622.8 293.7 624.2 294.5 625.6 294.6 627 294.1 628.4 294.5 629.8 294.6 631.2 294.7 632.6 295.3 634.1 295.3 635.5 295.3 636.9 295.8 638.3 296.1 639.7 295.8 641.1 296.4 642.5 296.6 643.9 297 645.3 297.3 646.7 297.4 648.1 297.2 649.5 297.1 651 297.4 652.4 297.4 653.8 298.1 655.2 297.8 656.6 298.1 658 298.4 659.4 298.3"/><path d="M92.2 198.2a3.9 3.9 0 1 0 7.8 0a3.9 3.9 0 1 0 -7.8 0M93.6 196.1a3.9 3.9 0 1 0 7.8 0a3.9 3.9 0 1 0 -7.8 0M95 196a3.9 3.9 0 1 0 7.8 0a3.9 3.9 0 1 0 -7.8 0M96.4 194.4a3.9 3.9 0 1 0 7.8 0a3.9 3.9 0 1 0 -7.8 0M97.8 194.4a3.9 3.9 0 1 0 7.8 0a3.9 3.9 0 1 0 -7.8 0M99.2 192.3a3.9 3.9 0 1 0 7.8 0a3.9 3.9 0 1 0 -7.8 0M100.6 192.5a3.9 3.9 0 1 0 7.8 0a3.9 3.9 0 1 0 -7.8 0M102.1 178.1a3.9 3.9 0 1 0 7.8 0a3.9 3.9 0 1 0 -7.8 0M103.5 163.8a3.9 3.9 0 1 0 7.8 0a3.9 3.9 0 1 0 -7.8 0M104.9 161.5a3.9 3.9 0 1 0 7.8 0a3.9 3.9 0 1 0 -7.8 0M106.3 158.1a3.9 3.9 0 1 0 7.8 0a3.9 3.9 0 1 0 -7.8 0M107.7 155.5a3.9 3.9 0 1 0 7.8 0a3.9 3.9 0 1 0 -7.8 0M109.1 152.9a3.9 3.9 0 1 0 7.8 0a3.9 3.9 0 1 0 -7.8 0M110.5 149.3a3.9 3.9 0 1 0 7.8 0a3.9 3.9 0 1 0 -7.8 0M111.9 146.6a3.9 3.9 0 1 0 7.8 0a3.9 3.9 0 1 0 -7.8 0M113.3 133.7a3.9 3.9 0 1 0 7.8 0a3.9 3.9 0 1 0 -7.8 0M114.7 129.8a3.9 3.9 0 1 0 7.8 0a3.9 3.9 0 1 0 -7.8 0M116.1 126.3a3.9 3.9 0 1 0 7.8 0a3.9 3.9 0 1 0 -7.8 0M117.5 122a3.9 3.9 0 1 0 7.8 0a3.9 3.9 0 1 0 -7.8 0M119 116.9a3.9 3.9 0 1 0 7.8 0a3.9 3.9 0 1 0 -7.8 0M120.4 113a3.9 3.9 0 1 0 7.8 0a3.9 3.9 0 1 0 -7.8 0M121.8 110a3.9 3.9 0 1 0 7.8 0a3.9 3.9 0 1 0 -7.8 0M123.2 92.5a3.9 3.9 0 1 0 7.8 0a3.9 3.9 0 1 0 -7.8 0M124.6 89.1a3.9 3.9 0 1 0 7.8 0a3.9 3.9 0 1 0 -7.8 0M126 87a3.9 3.9 0 1 0 7.8 0a3.9 3.9 0 1 0 -7.8 0M127.4 84.2a3.9 3.9 0 1 0 7.8 0a3.9 3.9 0 1 0 -7.8 0M128.8 81.2a3.9 3.9 0 1 0 7.8 0a3.9 3.9 0 1 0 -7.8 0M130.2 77.1a3.9 3.9 0 1 0 7.8 0a3.9 3.9 0 1 0 -7.8 0M131.6 63.4a3.9 3.9 0 1 0 7.8 0a3.9 3.9 0 1 0 -7.8 0M133 59.2a3.9 3.9 0 1 0 7.8 0a3.9 3.9 0 1 0 -7.8 0M134.4 56.9a3.9 3.9 0 1 0 7.8 0a3.9 3.9 0 1 0 -7.8 0M135.9 54.5a3.9 3.9 0 1 0 7.8 0a3.9 3.9 0 1 0 -7.8 0M137.3 52.8a3.9 3.9 0 1 0 7.8 0a3.9 3.9 0 1 0 -7.8 0M138.7 51.3a3.9 3.9 0 1 0 7.8 0a3.9 3.9 0 1 0 -7.8 0M140.1 49.9a3.9 3.9 0 1 0 7.8 0a3.9 3.9 0 1 0 -7.8 0M141.5 49.7a3.9 3.9 0 1 0 7.8 0a3.9 3.9 0 1 0 -7.8 0M142.9 47.8a3.9 3.9 0 1 0 7.8 0a3.9 3.9 0 1 0 -7.8 0M144.3 47.4a3.9 3.9 0 1 0 7.8 0a3.9 3.9 0 1 0 -7.8 0M145.7 47a3.9 3.9 0 1 0 7.8 0a3.9 3.9 0 1 0 -7.8 0M147.1 47.5a3.9 3.9 0 1 0 7.8 0a3.9 3.9 0 1 0 -7.8 0M148.5 46.8a3.9 3.9 0 1 0 7.8 0a3.9 3.9 0 1 0 -7.8 0M149.9 46.5a3.9 3.9 0 1 0 7.8 0a3.9 3.9 0 1 0 -7.8 0M151.3 45.7a3.9 3.9 0 1 0 7.8 0a3.9 3.9 0 1 0 -7.8 0M152.8 45.8a3.9 3.9 0 1 0 7.8 0a3.9 3.9 0 1 0 -7.8 0M154.2 46.1a3.9 3.9 0 1 0 7.8 0a3.9 3.9 0 1 0 -7.8 0M155.6 45a3.9 3.9 0 1 0 7.8 0a3.9 3.9 0 1 0 -7.8 0M157 44.9a3.9 3.9 0 1 0 7.8 0a3.9 3.9 0 1 0 -7.8 0M158.4 44.8a3.9 3.9 0 1 0 7.8 0a3.9 3.9 0 1 0 -7.8 0M159.8 45.5a3.9 3.9 0 1 0 7.8 0a3.9 3.9 0 1 0 -7.8 0M161.2 48.9a3.9 3.9 0 1 0 7.8 0a3.9 3.9 0 1 0 -7.8 0M162.6 86.2a3.9 3.9 0 1 0 7.8 0a3.9 3.9 0 1 0 -7.8 0M164 86.4a3.9 3.9 0 1 0 7.8 0a3.9 3.9 0 1 0 -7.8 0M165.4 86.8a3.9 3.9 0 1 0 7.8 0a3.9 3.9 0 1 0 -7.8 0M166.8 86.8a3.9 3.9 0 1 0 7.8 0a3.9 3.9 0 1 0 -7.8 0M168.2 88a3.9 3.9 0 1 0 7.8 0a3.9 3.9 0 1 0 -7.8 0M169.7 87.6a3.9 3.9 0 1 0 7.8 0a3.9 3.9 0 1 0 -7.8 0M171.1 87.7a3.9 3.9 0 1 0 7.8 0a3.9 3.9 0 1 0 -7.8 0M172.5 119.9a3.9 3.9 0 1 0 7.8 0a3.9 3.9 0 1 0 -7.8 0M173.9 120.9a3.9 3.9 0 1 0 7.8 0a3.9 3.9 0 1 0 -7.8 0M175.3 120.7a3.9 3.9 0 1 0 7.8 0a3.9 3.9 0 1 0 -7.8 0M176.7 121.8a3.9 3.9 0 1 0 7.8 0a3.9 3.9 0 1 0 -7.8 0M178.1 121.5a3.9 3.9 0 1 0 7.8 0a3.9 3.9 0 1 0 -7.8 0M179.5 122a3.9 3.9 0 1 0 7.8 0a3.9 3.9 0 1 0 -7.8 0M180.9 121.9a3.9 3.9 0 1 0 7.8 0a3.9 3.9 0 1 0 -7.8 0M182.3 124.2a3.9 3.9 0 1 0 7.8 0a3.9 3.9 0 1 0 -7.8 0M183.7 125.5a3.9 3.9 0 1 0 7.8 0a3.9 3.9 0 1 0 -7.8 0M185.1 126.5a3.9 3.9 0 1 0 7.8 0a3.9 3.9 0 1 0 -7.8 0M186.6 127.5a3.9 3.9 0 1 0 7.8 0a3.9 3.9 0 1 0 -7.8 0M188 129.3a3.9 3.9 0 1 0 7.8 0a3.9 3.9 0 1 0 -7.8 0M189.4 130.3a3.9 3.9 0 1 0 7.8 0a3.9 3.9 0 1 0 -7.8 0M190.8 132a3.9 3.9 0 1 0 7.8 0a3.9 3.9 0 1 0 -7.8 0M192.2 133.3a3.9 3.9 0 1 0 7.8 0a3.9 3.9 0 1 0 -7.8 0M193.6 134.2a3.9 3.9 0 1 0 7.8 0a3.9 3.9 0 1 0 -7.8 0M195 135.3a3.9 3.9 0 1 0 7.8 0a3.9 3.9 0 1 0 -7.8 0M196.4 139.8a3.9 3.9 0 1 0 7.8 0a3.9 3.9 0 1 0 -7.8 0M197.8 149.5a3.9 3.9 0 1 0 7.8 0a3.9 3.9 0 1 0 -7.8 0M199.2 156.6a3.9 3.9 0 1 0 7.8 0a3.9 3.9 0 1 0 -7.8 0M200.6 161.3a3.9 3.9 0 1 0 7.8 0a3.9 3.9 0 1 0 -7.8 0M202 166.7a3.9 3.9 0 1 0 7.8 0a3.9 3.9 0 1 0 -7.8 0M203.5 170.7a3.9 3.9 0 1 0 7.8 0a3.9 3.9 0 1 0 -7.8 0M204.9 174.7a3.9 3.9 0 1 0 7.8 0a3.9 3.9 0 1 0 -7.8 0M206.3 177.5a3.9 3.9 0 1 0 7.8 0a3.9 3.9 0 1 0 -7.8 0M207.7 181.3a3.9 3.9 0 1 0 7.8 0a3.9 3.9 0 1 0 -7.8 0M209.1 185.9a3.9 3.9 0 1 0 7.8 0a3.9 3.9 0 1 0 -7.8 0M210.5 189.7a3.9 3.9 0 1 0 7.8 0a3.9 3.9 0 1 0 -7.8 0M211.9 193.7a3.9 3.9 0 1 0 7.8 0a3.9 3.9 0 1 0 -7.8 0M213.3 198a3.9 3.9 0 1 0 7.8 0a3.9 3.9 0 1 0 -7.8 0M214.7 200.4a3.9 3.9 0 1 0 7.8 0a3.9 3.9 0 1 0 -7.8 0M216.1 202.9a3.9 3.9 0 1 0 7.8 0a3.9 3.9 0 1 0 -7.8 0M217.5 205a3.9 3.9 0 1 0 7.8 0a3.9 3.9 0 1 0 -7.8 0M218.9 206.6a3.9 3.9 0 1 0 7.8 0a3.9 3.9 0 1 0 -7.8 0M220.4 207.4a3.9 3.9 0 1 0 7.8 0a3.9 3.9 0 1 0 -7.8 0M221.8 208.6a3.9 3.9 0 1 0 7.8 0a3.9 3.9 0 1 0 -7.8 0M223.2 209.7a3.9 3.9 0 1 0 7.8 0a3.9 3.9 0 1 0 -7.8 0M224.6 210.4a3.9 3.9 0 1 0 7.8 0a3.9 3.9 0 1 0 -7.8 0M226 211.3a3.9 3.9 0 1 0 7.8 0a3.9 3.9 0 1 0 -7.8 0M227.4 212.5a3.9 3.9 0 1 0 7.8 0a3.9 3.9 0 1 0 -7.8 0M228.8 213.6a3.9 3.9 0 1 0 7.8 0a3.9 3.9 0 1 0 -7.8 0M230.2 214.5a3.9 3.9 0 1 0 7.8 0a3.9 3.9 0 1 0 -7.8 0M231.6 215.2a3.9 3.9 0 1 0 7.8 0a3.9 3.9 0 1 0 -7.8 0M233 216.6a3.9 3.9 0 1 0 7.8 0a3.9 3.9 0 1 0 -7.8 0M234.4 217.6a3.9 3.9 0 1 0 7.8 0a3.9 3.9 0 1 0 -7.8 0M235.8 218.6a3.9 3.9 0 1 0 7.8 0a3.9 3.9 0 1 0 -7.8 0M237.2 219.3a3.9 3.9 0 1 0 7.8 0a3.9 3.9 0 1 0 -7.8 0M238.7 219.1a3.9 3.9 0 1 0 7.8 0a3.9 3.9 0 1 0 -7.8 0M240.1 220.2a3.9 3.9 0 1 0 7.8 0a3.9 3.9 0 1 0 -7.8 0M241.5 220.5a3.9 3.9 0 1 0 7.8 0a3.9 3.9 0 1 0 -7.8 0M242.9 221.1a3.9 3.9 0 1 0 7.8 0a3.9 3.9 0 1 0 -7.8 0M244.3 221.8a3.9 3.9 0 1 0 7.8 0a3.9 3.9 0 1 0 -7.8 0M245.7 222.1a3.9 3.9 0 1 0 7.8 0a3.9 3.9 0 1 0 -7.8 0M247.1 222.7a3.9 3.9 0 1 0 7.8 0a3.9 3.9 0 1 0 -7.8 0M248.5 223.9a3.9 3.9 0 1 0 7.8 0a3.9 3.9 0 1 0 -7.8 0M249.9 223.9a3.9 3.9 0 1 0 7.8 0a3.9 3.9 0 1 0 -7.8 0M251.3 224.9a3.9 3.9 0 1 0 7.8 0a3.9 3.9 0 1 0 -7.8 0M252.7 225.3a3.9 3.9 0 1 0 7.8 0a3.9 3.9 0 1 0 -7.8 0M254.1 225.6a3.9 3.9 0 1 0 7.8 0a3.9 3.9 0 1 0 -7.8 0M255.6 226.1a3.9 3.9 0 1 0 7.8 0a3.9 3.9 0 1 0 -7.8 0M257 226.9a3.9 3.9 0 1 0 7.8 0a3.9 3.9 0 1 0 -7.8 0M258.4 227.9a3.9 3.9 0 1 0 7.8 0a3.9 3.9 0 1 0 -7.8 0M259.8 228.7a3.9 3.9 0 1 0 7.8 0a3.9 3.9 0 1 0 -7.8 0M261.2 229.5a3.9 3.9 0 1 0 7.8 0a3.9 3.9 0 1 0 -7.8 0M262.6 230.7a3.9 3.9 0 1 0 7.8 0a3.9 3.9 0 1 0 -7.8 0M264 232.3a3.9 3.9 0 1 0 7.8 0a3.9 3.9 0 1 0 -7.8 0M265.4 233.3a3.9 3.9 0 1 0 7.8 0a3.9 3.9 0 1 0 -7.8 0M266.8 233.8a3.9 3.9 0 1 0 7.8 0a3.9 3.9 0 1 0 -7.8 0M268.2 235.5a3.9 3.9 0 1 0 7.8 0a3.9 3.9 0 1 0 -7.8 0M269.6 236.4a3.9 3.9 0 1 0 7.8 0a3.9 3.9 0 1 0 -7.8 0M271 237.2a3.9 3.9 0 1 0 7.8 0a3.9 3.9 0 1 0 -7.8 0M272.5 238.7a3.9 3.9 0 1 0 7.8 0a3.9 3.9 0 1 0 -7.8 0M273.9 239.2a3.9 3.9 0 1 0 7.8 0a3.9 3.9 0 1 0 -7.8 0M275.3 240.2a3.9 3.9 0 1 0 7.8 0a3.9 3.9 0 1 0 -7.8 0M276.7 241.5a3.9 3.9 0 1 0 7.8 0a3.9 3.9 0 1 0 -7.8 0M278.1 242.9a3.9 3.9 0 1 0 7.8 0a3.9 3.9 0 1 0 -7.8 0M279.5 243.8a3.9 3.9 0 1 0 7.8 0a3.9 3.9 0 1 0 -7.8 0M280.9 244.8a3.9 3.9 0 1 0 7.8 0a3.9 3.9 0 1 0 -7.8 0M282.3 246.9a3.9 3.9 0 1 0 7.8 0a3.9 3.9 0 1 0 -7.8 0M283.7 248.4a3.9 3.9 0 1 0 7.8 0a3.9 3.9 0 1 0 -7.8 0M285.1 250.6a3.9 3.9 0 1 0 7.8 0a3.9 3.9 0 1 0 -7.8 0M286.5 251.9a3.9 3.9 0 1 0 7.8 0a3.9 3.9 0 1 0 -7.8 0M287.9 254.4a3.9 3.9 0 1 0 7.8 0a3.9 3.9 0 1 0 -7.8 0M289.4 254.8a3.9 3.9 0 1 0 7.8 0a3.9 3.9 0 1 0 -7.8 0M290.8 255.4a3.9 3.9 0 1 0 7.8 0a3.9 3.9 0 1 0 -7.8 0M292.2 255.7a3.9 3.9 0 1 0 7.8 0a3.9 3.9 0 1 0 -7.8 0M293.6 255.7a3.9 3.9 0 1 0 7.8 0a3.9 3.9 0 1 0 -7.8 0M295 255.9a3.9 3.9 0 1 0 7.8 0a3.9 3.9 0 1 0 -7.8 0M296.4 256a3.9 3.9 0 1 0 7.8 0a3.9 3.9 0 1 0 -7.8 0M297.8 256.4a3.9 3.9 0 1 0 7.8 0a3.9 3.9 0 1 0 -7.8 0M299.2 256.5a3.9 3.9 0 1 0 7.8 0a3.9 3.9 0 1 0 -7.8 0M300.6 257a3.9 3.9 0 1 0 7.8 0a3.9 3.9 0 1 0 -7.8 0M302 258a3.9 3.9 0 1 0 7.8 0a3.9 3.9 0 1 0 -7.8 0M303.4 258.7a3.9 3.9 0 1 0 7.8 0a3.9 3.9 0 1 0 -7.8 0M304.8 259.1a3.9 3.9 0 1 0 7.8 0a3.9 3.9 0 1 0 -7.8 0M306.3 260.1a3.9 3.9 0 1 0 7.8 0a3.9 3.9 0 1 0 -7.8 0M307.7 260.3a3.9 3.9 0 1 0 7.8 0a3.9 3.9 0 1 0 -7.8 0M309.1 260.3a3.9 3.9 0 1 0 7.8 0a3.9 3.9 0 1 0 -7.8 0M310.5 261a3.9 3.9 0 1 0 7.8 0a3.9 3.9 0 1 0 -7.8 0M311.9 261.4a3.9 3.9 0 1 0 7.8 0a3.9 3.9 0 1 0 -7.8 0M313.3 261.3a3.9 3.9 0 1 0 7.8 0a3.9 3.9 0 1 0 -7.8 0M314.7 262a3.9 3.9 0 1 0 7.8 0a3.9 3.9 0 1 0 -7.8 0M316.1 262.4a3.9 3.9 0 1 0 7.8 0a3.9 3.9 0 1 0 -7.8 0M317.5 262.4a3.9 3.9 0 1 0 7.8 0a3.9 3.9 0 1 0 -7.8 0M318.9 262.6a3.9 3.9 0 1 0 7.8 0a3.9 3.9 0 1 0 -7.8 0M320.3 263.5a3.9 3.9 0 1 0 7.8 0a3.9 3.9 0 1 0 -7.8 0M321.7 264.3a3.9 3.9 0 1 0 7.8 0a3.9 3.9 0 1 0 -7.8 0M323.2 265.4a3.9 3.9 0 1 0 7.8 0a3.9 3.9 0 1 0 -7.8 0M324.6 266.9a3.9 3.9 0 1 0 7.8 0a3.9 3.9 0 1 0 -7.8 0M326 267.1a3.9 3.9 0 1 0 7.8 0a3.9 3.9 0 1 0 -7.8 0M327.4 268.7a3.9 3.9 0 1 0 7.8 0a3.9 3.9 0 1 0 -7.8 0M328.8 269.4a3.9 3.9 0 1 0 7.8 0a3.9 3.9 0 1 0 -7.8 0M330.2 270.5a3.9 3.9 0 1 0 7.8 0a3.9 3.9 0 1 0 -7.8 0M331.6 270.8a3.9 3.9 0 1 0 7.8 0a3.9 3.9 0 1 0 -7.8 0M333 272.2a3.9 3.9 0 1 0 7.8 0a3.9 3.9 0 1 0 -7.8 0M334.4 272.3a3.9 3.9 0 1 0 7.8 0a3.9 3.9 0 1 0 -7.8 0M335.8 272.7a3.9 3.9 0 1 0 7.8 0a3.9 3.9 0 1 0 -7.8 0M337.2 272.9a3.9 3.9 0 1 0 7.8 0a3.9 3.9 0 1 0 -7.8 0M338.6 272.9a3.9 3.9 0 1 0 7.8 0a3.9 3.9 0 1 0 -7.8 0M340.1 272.8a3.9 3.9 0 1 0 7.8 0a3.9 3.9 0 1 0 -7.8 0M341.5 273.2a3.9 3.9 0 1 0 7.8 0a3.9 3.9 0 1 0 -7.8 0M342.9 272.7a3.9 3.9 0 1 0 7.8 0a3.9 3.9 0 1 0 -7.8 0M344.3 272.7a3.9 3.9 0 1 0 7.8 0a3.9 3.9 0 1 0 -7.8 0M345.7 273.3a3.9 3.9 0 1 0 7.8 0a3.9 3.9 0 1 0 -7.8 0M347.1 272.8a3.9 3.9 0 1 0 7.8 0a3.9 3.9 0 1 0 -7.8 0M348.5 273.1a3.9 3.9 0 1 0 7.8 0a3.9 3.9 0 1 0 -7.8 0M349.9 273.2a3.9 3.9 0 1 0 7.8 0a3.9 3.9 0 1 0 -7.8 0M351.3 273.6a3.9 3.9 0 1 0 7.8 0a3.9 3.9 0 1 0 -7.8 0M352.7 273.3a3.9 3.9 0 1 0 7.8 0a3.9 3.9 0 1 0 -7.8 0M354.1 273.5a3.9 3.9 0 1 0 7.8 0a3.9 3.9 0 1 0 -7.8 0M355.5 273.5a3.9 3.9 0 1 0 7.8 0a3.9 3.9 0 1 0 -7.8 0M357 273.5a3.9 3.9 0 1 0 7.8 0a3.9 3.9 0 1 0 -7.8 0M358.4 273.6a3.9 3.9 0 1 0 7.8 0a3.9 3.9 0 1 0 -7.8 0M359.8 273.7a3.9 3.9 0 1 0 7.8 0a3.9 3.9 0 1 0 -7.8 0M361.2 273.8a3.9 3.9 0 1 0 7.8 0a3.9 3.9 0 1 0 -7.8 0M362.6 273.8a3.9 3.9 0 1 0 7.8 0a3.9 3.9 0 1 0 -7.8 0M364 273.8a3.9 3.9 0 1 0 7.8 0a3.9 3.9 0 1 0 -7.8 0M365.4 274.3a3.9 3.9 0 1 0 7.8 0a3.9 3.9 0 1 0 -7.8 0M366.8 274.4a3.9 3.9 0 1 0 7.8 0a3.9 3.9 0 1 0 -7.8 0M368.2 273.9a3.9 3.9 0 1 0 7.8 0a3.9 3.9 0 1 0 -7.8 0M369.6 274.5a3.9 3.9 0 1 0 7.8 0a3.9 3.9 0 1 0 -7.8 0M371 273.9a3.9 3.9 0 1 0 7.8 0a3.9 3.9 0 1 0 -7.8 0M372.4 274.2a3.9 3.9 0 1 0 7.8 0a3.9 3.9 0 1 0 -7.8 0M373.9 274.7a3.9 3.9 0 1 0 7.8 0a3.9 3.9 0 1 0 -7.8 0M375.3 274.2a3.9 3.9 0 1 0 7.8 0a3.9 3.9 0 1 0 -7.8 0M376.7 274.7a3.9 3.9 0 1 0 7.8 0a3.9 3.9 0 1 0 -7.8 0M378.1 275a3.9 3.9 0 1 0 7.8 0a3.9 3.9 0 1 0 -7.8 0M379.5 274.8a3.9 3.9 0 1 0 7.8 0a3.9 3.9 0 1 0 -7.8 0M380.9 274.7a3.9 3.9 0 1 0 7.8 0a3.9 3.9 0 1 0 -7.8 0M382.3 274.4a3.9 3.9 0 1 0 7.8 0a3.9 3.9 0 1 0 -7.8 0M383.7 274.8a3.9 3.9 0 1 0 7.8 0a3.9 3.9 0 1 0 -7.8 0M385.1 274.9a3.9 3.9 0 1 0 7.8 0a3.9 3.9 0 1 0 -7.8 0M386.5 275.2a3.9 3.9 0 1 0 7.8 0a3.9 3.9 0 1 0 -7.8 0M387.9 274.9a3.9 3.9 0 1 0 7.8 0a3.9 3.9 0 1 0 -7.8 0M389.3 275.3a3.9 3.9 0 1 0 7.8 0a3.9 3.9 0 1 0 -7.8 0M390.7 275a3.9 3.9 0 1 0 7.8 0a3.9 3.9 0 1 0 -7.8 0M392.2 275.2a3.9 3.9 0 1 0 7.8 0a3.9 3.9 0 1 0 -7.8 0M393.6 275.3a3.9 3.9 0 1 0 7.8 0a3.9 3.9 0 1 0 -7.8 0M395 274.9a3.9 3.9 0 1 0 7.8 0a3.9 3.9 0 1 0 -7.8 0M396.4 275.5a3.9 3.9 0 1 0 7.8 0a3.9 3.9 0 1 0 -7.8 0M397.8 275.2a3.9 3.9 0 1 0 7.8 0a3.9 3.9 0 1 0 -7.8 0M399.2 275.2a3.9 3.9 0 1 0 7.8 0a3.9 3.9 0 1 0 -7.8 0M400.6 275.6a3.9 3.9 0 1 0 7.8 0a3.9 3.9 0 1 0 -7.8 0M402 275.3a3.9 3.9 0 1 0 7.8 0a3.9 3.9 0 1 0 -7.8 0M403.4 275.3a3.9 3.9 0 1 0 7.8 0a3.9 3.9 0 1 0 -7.8 0M404.8 275.1a3.9 3.9 0 1 0 7.8 0a3.9 3.9 0 1 0 -7.8 0M406.2 275.1a3.9 3.9 0 1 0 7.8 0a3.9 3.9 0 1 0 -7.8 0M407.6 275.6a3.9 3.9 0 1 0 7.8 0a3.9 3.9 0 1 0 -7.8 0M409.1 275.4a3.9 3.9 0 1 0 7.8 0a3.9 3.9 0 1 0 -7.8 0M410.5 275.5a3.9 3.9 0 1 0 7.8 0a3.9 3.9 0 1 0 -7.8 0M411.9 275.6a3.9 3.9 0 1 0 7.8 0a3.9 3.9 0 1 0 -7.8 0M413.3 275.6a3.9 3.9 0 1 0 7.8 0a3.9 3.9 0 1 0 -7.8 0M414.7 275.3a3.9 3.9 0 1 0 7.8 0a3.9 3.9 0 1 0 -7.8 0M416.1 275.8a3.9 3.9 0 1 0 7.8 0a3.9 3.9 0 1 0 -7.8 0M417.5 275.5a3.9 3.9 0 1 0 7.8 0a3.9 3.9 0 1 0 -7.8 0M418.9 275.2a3.9 3.9 0 1 0 7.8 0a3.9 3.9 0 1 0 -7.8 0M420.3 275.8a3.9 3.9 0 1 0 7.8 0a3.9 3.9 0 1 0 -7.8 0M421.7 275.8a3.9 3.9 0 1 0 7.8 0a3.9 3.9 0 1 0 -7.8 0M423.1 275.2a3.9 3.9 0 1 0 7.8 0a3.9 3.9 0 1 0 -7.8 0M424.5 275.8a3.9 3.9 0 1 0 7.8 0a3.9 3.9 0 1 0 -7.8 0M426 275.7a3.9 3.9 0 1 0 7.8 0a3.9 3.9 0 1 0 -7.8 0M427.4 275.3a3.9 3.9 0 1 0 7.8 0a3.9 3.9 0 1 0 -7.8 0M428.8 275.6a3.9 3.9 0 1 0 7.8 0a3.9 3.9 0 1 0 -7.8 0M430.2 275.8a3.9 3.9 0 1 0 7.8 0a3.9 3.9 0 1 0 -7.8 0M431.6 275.2a3.9 3.9 0 1 0 7.8 0a3.9 3.9 0 1 0 -7.8 0M433 275.6a3.9 3.9 0 1 0 7.8 0a3.9 3.9 0 1 0 -7.8 0M434.4 275.3a3.9 3.9 0 1 0 7.8 0a3.9 3.9 0 1 0 -7.8 0M435.8 275.2a3.9 3.9 0 1 0 7.8 0a3.9 3.9 0 1 0 -7.8 0M437.2 275.9a3.9 3.9 0 1 0 7.8 0a3.9 3.9 0 1 0 -7.8 0M438.6 275.9a3.9 3.9 0 1 0 7.8 0a3.9 3.9 0 1 0 -7.8 0M440 275.6a3.9 3.9 0 1 0 7.8 0a3.9 3.9 0 1 0 -7.8 0M441.4 275.7a3.9 3.9 0 1 0 7.8 0a3.9 3.9 0 1 0 -7.8 0M442.9 275.4a3.9 3.9 0 1 0 7.8 0a3.9 3.9 0 1 0 -7.8 0M444.3 275.4a3.9 3.9 0 1 0 7.8 0a3.9 3.9 0 1 0 -7.8 0M445.7 275.6a3.9 3.9 0 1 0 7.8 0a3.9 3.9 0 1 0 -7.8 0M447.1 275.8a3.9 3.9 0 1 0 7.8 0a3.9 3.9 0 1 0 -7.8 0M448.5 275.7a3.9 3.9 0 1 0 7.8 0a3.9 3.9 0 1 0 -7.8 0M449.9 275.5a3.9 3.9 0 1 0 7.8 0a3.9 3.9 0 1 0 -7.8 0M451.3 275.6a3.9 3.9 0 1 0 7.8 0a3.9 3.9 0 1 0 -7.8 0M452.7 275.4a3.9 3.9 0 1 0 7.8 0a3.9 3.9 0 1 0 -7.8 0M454.1 276.2a3.9 3.9 0 1 0 7.8 0a3.9 3.9 0 1 0 -7.8 0M455.5 276.8a3.9 3.9 0 1 0 7.8 0a3.9 3.9 0 1 0 -7.8 0M456.9 277.2a3.9 3.9 0 1 0 7.8 0a3.9 3.9 0 1 0 -7.8 0M458.3 277.3a3.9 3.9 0 1 0 7.8 0a3.9 3.9 0 1 0 -7.8 0M459.8 277.8a3.9 3.9 0 1 0 7.8 0a3.9 3.9 0 1 0 -7.8 0M461.2 278.8a3.9 3.9 0 1 0 7.8 0a3.9 3.9 0 1 0 -7.8 0M462.6 278.8a3.9 3.9 0 1 0 7.8 0a3.9 3.9 0 1 0 -7.8 0M464 279.5a3.9 3.9 0 1 0 7.8 0a3.9 3.9 0 1 0 -7.8 0M465.4 279.5a3.9 3.9 0 1 0 7.8 0a3.9 3.9 0 1 0 -7.8 0M466.8 279.9a3.9 3.9 0 1 0 7.8 0a3.9 3.9 0 1 0 -7.8 0M468.2 280.4a3.9 3.9 0 1 0 7.8 0a3.9 3.9 0 1 0 -7.8 0M469.6 281.2a3.9 3.9 0 1 0 7.8 0a3.9 3.9 0 1 0 -7.8 0M471 281.2a3.9 3.9 0 1 0 7.8 0a3.9 3.9 0 1 0 -7.8 0M472.4 282a3.9 3.9 0 1 0 7.8 0a3.9 3.9 0 1 0 -7.8 0M473.8 282a3.9 3.9 0 1 0 7.8 0a3.9 3.9 0 1 0 -7.8 0M475.2 282.9a3.9 3.9 0 1 0 7.8 0a3.9 3.9 0 1 0 -7.8 0M476.7 283.3a3.9 3.9 0 1 0 7.8 0a3.9 3.9 0 1 0 -7.8 0M478.1 283.4a3.9 3.9 0 1 0 7.8 0a3.9 3.9 0 1 0 -7.8 0M479.5 283.8a3.9 3.9 0 1 0 7.8 0a3.9 3.9 0 1 0 -7.8 0M480.9 283.9a3.9 3.9 0 1 0 7.8 0a3.9 3.9 0 1 0 -7.8 0M482.3 284.1a3.9 3.9 0 1 0 7.8 0a3.9 3.9 0 1 0 -7.8 0M483.7 283.9a3.9 3.9 0 1 0 7.8 0a3.9 3.9 0 1 0 -7.8 0M485.1 284a3.9 3.9 0 1 0 7.8 0a3.9 3.9 0 1 0 -7.8 0M486.5 284.5a3.9 3.9 0 1 0 7.8 0a3.9 3.9 0 1 0 -7.8 0M487.9 284.7a3.9 3.9 0 1 0 7.8 0a3.9 3.9 0 1 0 -7.8 0M489.3 284.1a3.9 3.9 0 1 0 7.8 0a3.9 3.9 0 1 0 -7.8 0M490.7 284.5a3.9 3.9 0 1 0 7.8 0a3.9 3.9 0 1 0 -7.8 0M492.1 284.7a3.9 3.9 0 1 0 7.8 0a3.9 3.9 0 1 0 -7.8 0M493.6 285a3.9 3.9 0 1 0 7.8 0a3.9 3.9 0 1 0 -7.8 0M495 284.7a3.9 3.9 0 1 0 7.8 0a3.9 3.9 0 1 0 -7.8 0M496.4 284.7a3.9 3.9 0 1 0 7.8 0a3.9 3.9 0 1 0 -7.8 0M497.8 285a3.9 3.9 0 1 0 7.8 0a3.9 3.9 0 1 0 -7.8 0M499.2 285.1a3.9 3.9 0 1 0 7.8 0a3.9 3.9 0 1 0 -7.8 0M500.6 285.1a3.9 3.9 0 1 0 7.8 0a3.9 3.9 0 1 0 -7.8 0M502 285a3.9 3.9 0 1 0 7.8 0a3.9 3.9 0 1 0 -7.8 0M503.4 285.3a3.9 3.9 0 1 0 7.8 0a3.9 3.9 0 1 0 -7.8 0M504.8 284.7a3.9 3.9 0 1 0 7.8 0a3.9 3.9 0 1 0 -7.8 0M506.2 285.3a3.9 3.9 0 1 0 7.8 0a3.9 3.9 0 1 0 -7.8 0M507.6 285a3.9 3.9 0 1 0 7.8 0a3.9 3.9 0 1 0 -7.8 0M509 285.1a3.9 3.9 0 1 0 7.8 0a3.9 3.9 0 1 0 -7.8 0M510.5 285.2a3.9 3.9 0 1 0 7.8 0a3.9 3.9 0 1 0 -7.8 0M511.9 285.4a3.9 3.9 0 1 0 7.8 0a3.9 3.9 0 1 0 -7.8 0M513.3 285.5a3.9 3.9 0 1 0 7.8 0a3.9 3.9 0 1 0 -7.8 0M514.7 285.6a3.9 3.9 0 1 0 7.8 0a3.9 3.9 0 1 0 -7.8 0M516.1 285.5a3.9 3.9 0 1 0 7.8 0a3.9 3.9 0 1 0 -7.8 0M517.5 285.7a3.9 3.9 0 1 0 7.8 0a3.9 3.9 0 1 0 -7.8 0M518.9 286.1a3.9 3.9 0 1 0 7.8 0a3.9 3.9 0 1 0 -7.8 0M520.3 286.4a3.9 3.9 0 1 0 7.8 0a3.9 3.9 0 1 0 -7.8 0M521.7 286.1a3.9 3.9 0 1 0 7.8 0a3.9 3.9 0 1 0 -7.8 0M523.1 285.9a3.9 3.9 0 1 0 7.8 0a3.9 3.9 0 1 0 -7.8 0M524.5 286.7a3.9 3.9 0 1 0 7.8 0a3.9 3.9 0 1 0 -7.8 0M525.9 286.9a3.9 3.9 0 1 0 7.8 0a3.9 3.9 0 1 0 -7.8 0M527.3 286.9a3.9 3.9 0 1 0 7.8 0a3.9 3.9 0 1 0 -7.8 0M528.8 286.9a3.9 3.9 0 1 0 7.8 0a3.9 3.9 0 1 0 -7.8 0M530.2 286.8a3.9 3.9 0 1 0 7.8 0a3.9 3.9 0 1 0 -7.8 0M531.6 286.7a3.9 3.9 0 1 0 7.8 0a3.9 3.9 0 1 0 -7.8 0M533 287.5a3.9 3.9 0 1 0 7.8 0a3.9 3.9 0 1 0 -7.8 0M534.4 287.2a3.9 3.9 0 1 0 7.8 0a3.9 3.9 0 1 0 -7.8 0M535.8 287.1a3.9 3.9 0 1 0 7.8 0a3.9 3.9 0 1 0 -7.8 0M537.2 287.6a3.9 3.9 0 1 0 7.8 0a3.9 3.9 0 1 0 -7.8 0M538.6 287.3a3.9 3.9 0 1 0 7.8 0a3.9 3.9 0 1 0 -7.8 0M540 287.7a3.9 3.9 0 1 0 7.8 0a3.9 3.9 0 1 0 -7.8 0M541.4 288a3.9 3.9 0 1 0 7.8 0a3.9 3.9 0 1 0 -7.8 0M542.8 288.3a3.9 3.9 0 1 0 7.8 0a3.9 3.9 0 1 0 -7.8 0M544.2 288a3.9 3.9 0 1 0 7.8 0a3.9 3.9 0 1 0 -7.8 0M545.7 288a3.9 3.9 0 1 0 7.8 0a3.9 3.9 0 1 0 -7.8 0M547.1 288.3a3.9 3.9 0 1 0 7.8 0a3.9 3.9 0 1 0 -7.8 0M548.5 288.8a3.9 3.9 0 1 0 7.8 0a3.9 3.9 0 1 0 -7.8 0M549.9 288.4a3.9 3.9 0 1 0 7.8 0a3.9 3.9 0 1 0 -7.8 0M551.3 288.5a3.9 3.9 0 1 0 7.8 0a3.9 3.9 0 1 0 -7.8 0M552.7 288.8a3.9 3.9 0 1 0 7.8 0a3.9 3.9 0 1 0 -7.8 0M554.1 289.5a3.9 3.9 0 1 0 7.8 0a3.9 3.9 0 1 0 -7.8 0M555.5 289.6a3.9 3.9 0 1 0 7.8 0a3.9 3.9 0 1 0 -7.8 0M556.9 289.8a3.9 3.9 0 1 0 7.8 0a3.9 3.9 0 1 0 -7.8 0M558.3 289.2a3.9 3.9 0 1 0 7.8 0a3.9 3.9 0 1 0 -7.8 0M559.7 289.7a3.9 3.9 0 1 0 7.8 0a3.9 3.9 0 1 0 -7.8 0M561.1 289.5a3.9 3.9 0 1 0 7.8 0a3.9 3.9 0 1 0 -7.8 0M562.6 290a3.9 3.9 0 1 0 7.8 0a3.9 3.9 0 1 0 -7.8 0M564 290.3a3.9 3.9 0 1 0 7.8 0a3.9 3.9 0 1 0 -7.8 0M565.4 290.1a3.9 3.9 0 1 0 7.8 0a3.9 3.9 0 1 0 -7.8 0M566.8 290.4a3.9 3.9 0 1 0 7.8 0a3.9 3.9 0 1 0 -7.8 0M568.2 290.4a3.9 3.9 0 1 0 7.8 0a3.9 3.9 0 1 0 -7.8 0M569.6 290.4a3.9 3.9 0 1 0 7.8 0a3.9 3.9 0 1 0 -7.8 0M571 290.3a3.9 3.9 0 1 0 7.8 0a3.9 3.9 0 1 0 -7.8 0M572.4 290.3a3.9 3.9 0 1 0 7.8 0a3.9 3.9 0 1 0 -7.8 0M573.8 290.7a3.9 3.9 0 1 0 7.8 0a3.9 3.9 0 1 0 -7.8 0M575.2 291a3.9 3.9 0 1 0 7.8 0a3.9 3.9 0 1 0 -7.8 0M576.6 291.1a3.9 3.9 0 1 0 7.8 0a3.9 3.9 0 1 0 -7.8 0M578 291.1a3.9 3.9 0 1 0 7.8 0a3.9 3.9 0 1 0 -7.8 0M579.5 291.1a3.9 3.9 0 1 0 7.8 0a3.9 3.9 0 1 0 -7.8 0M580.9 291a3.9 3.9 0 1 0 7.8 0a3.9 3.9 0 1 0 -7.8 0M582.3 291a3.9 3.9 0 1 0 7.8 0a3.9 3.9 0 1 0 -7.8 0M583.7 290.8a3.9 3.9 0 1 0 7.8 0a3.9 3.9 0 1 0 -7.8 0M585.1 291.4a3.9 3.9 0 1 0 7.8 0a3.9 3.9 0 1 0 -7.8 0M586.5 291a3.9 3.9 0 1 0 7.8 0a3.9 3.9 0 1 0 -7.8 0M587.9 291.6a3.9 3.9 0 1 0 7.8 0a3.9 3.9 0 1 0 -7.8 0M589.3 291.6a3.9 3.9 0 1 0 7.8 0a3.9 3.9 0 1 0 -7.8 0M590.7 291.3a3.9 3.9 0 1 0 7.8 0a3.9 3.9 0 1 0 -7.8 0M592.1 291.8a3.9 3.9 0 1 0 7.8 0a3.9 3.9 0 1 0 -7.8 0M593.5 291.8a3.9 3.9 0 1 0 7.8 0a3.9 3.9 0 1 0 -7.8 0M594.9 291.9a3.9 3.9 0 1 0 7.8 0a3.9 3.9 0 1 0 -7.8 0M596.4 291.4a3.9 3.9 0 1 0 7.8 0a3.9 3.9 0 1 0 -7.8 0M597.8 291.7a3.9 3.9 0 1 0 7.8 0a3.9 3.9 0 1 0 -7.8 0M599.2 291.7a3.9 3.9 0 1 0 7.8 0a3.9 3.9 0 1 0 -7.8 0M600.6 292.5a3.9 3.9 0 1 0 7.8 0a3.9 3.9 0 1 0 -7.8 0M602 292.1a3.9 3.9 0 1 0 7.8 0a3.9 3.9 0 1 0 -7.8 0M603.4 292.4a3.9 3.9 0 1 0 7.8 0a3.9 3.9 0 1 0 -7.8 0M604.8 292.8a3.9 3.9 0 1 0 7.8 0a3.9 3.9 0 1 0 -7.8 0M606.2 292.6a3.9 3.9 0 1 0 7.8 0a3.9 3.9 0 1 0 -7.8 0M607.6 293a3.9 3.9 0 1 0 7.8 0a3.9 3.9 0 1 0 -7.8 0M609 293.1a3.9 3.9 0 1 0 7.8 0a3.9 3.9 0 1 0 -7.8 0M610.4 293a3.9 3.9 0 1 0 7.8 0a3.9 3.9 0 1 0 -7.8 0M611.8 293.6a3.9 3.9 0 1 0 7.8 0a3.9 3.9 0 1 0 -7.8 0M613.3 293.6a3.9 3.9 0 1 0 7.8 0a3.9 3.9 0 1 0 -7.8 0M614.7 293.7a3.9 3.9 0 1 0 7.8 0a3.9 3.9 0 1 0 -7.8 0M616.1 293.9a3.9 3.9 0 1 0 7.8 0a3.9 3.9 0 1 0 -7.8 0M617.5 293.9a3.9 3.9 0 1 0 7.8 0a3.9 3.9 0 1 0 -7.8 0M618.9 293.7a3.9 3.9 0 1 0 7.8 0a3.9 3.9 0 1 0 -7.8 0M620.3 294.5a3.9 3.9 0 1 0 7.8 0a3.9 3.9 0 1 0 -7.8 0M621.7 294.6a3.9 3.9 0 1 0 7.8 0a3.9 3.9 0 1 0 -7.8 0M623.1 294.1a3.9 3.9 0 1 0 7.8 0a3.9 3.9 0 1 0 -7.8 0M624.5 294.5a3.9 3.9 0 1 0 7.8 0a3.9 3.9 0 1 0 -7.8 0M625.9 294.6a3.9 3.9 0 1 0 7.8 0a3.9 3.9 0 1 0 -7.8 0M627.3 294.7a3.9 3.9 0 1 0 7.8 0a3.9 3.9 0 1 0 -7.8 0M628.7 295.3a3.9 3.9 0 1 0 7.8 0a3.9 3.9 0 1 0 -7.8 0M630.2 295.3a3.9 3.9 0 1 0 7.8 0a3.9 3.9 0 1 0 -7.8 0M631.6 295.3a3.9 3.9 0 1 0 7.8 0a3.9 3.9 0 1 0 -7.8 0M633 295.8a3.9 3.9 0 1 0 7.8 0a3.9 3.9 0 1 0 -7.8 0M634.4 296.1a3.9 3.9 0 1 0 7.8 0a3.9 3.9 0 1 0 -7.8 0M635.8 295.8a3.9 3.9 0 1 0 7.8 0a3.9 3.9 0 1 0 -7.8 0M637.2 296.4a3.9 3.9 0 1 0 7.8 0a3.9 3.9 0 1 0 -7.8 0M638.6 296.6a3.9 3.9 0 1 0 7.8 0a3.9 3.9 0 1 0 -7.8 0M640 297a3.9 3.9 0 1 0 7.8 0a3.9 3.9 0 1 0 -7.8 0M641.4 297.3a3.9 3.9 0 1 0 7.8 0a3.9 3.9 0 1 0 -7.8 0M642.8 297.4a3.9 3.9 0 1 0 7.8 0a3.9 3.9 0 1 0 -7.8 0M644.2 297.2a3.9 3.9 0 1 0 7.8 0a3.9 3.9 0 1 0 -7.8 0M645.6 297.1a3.9 3.9 0 1 0 7.8 0a3.9 3.9 0 1 0 -7.8 0M647.1 297.4a3.9 3.9 0 1 0 7.8 0a3.9 3.9 0 1 0 -7.8 0M648.5 297.4a3.9 3.9 0 1 0 7.8 0a3.9 3.9 0 1 0 -7.8 0M649.9 298.1a3.9 3.9 0 1 0 7.8 0a3.9 3.9 0 1 0 -7.8 0M651.3 297.8a3.9 3.9 0 1 0 7.8 0a3.9 3.9 0 1 0 -7.8 0M652.7 298.1a3.9 3.9 0 1 0 7.8 0a3.9 3.9 0 1 0 -7.8 0M654.1 298.4a3.9 3.9 0 1 0 7.8 0a3.9 3.9 0 1 0 -7.8 0M655.5 298.3a3.9 3.9 0 1 0 7.8 0a3.9 3.9 0 1 0 -7.8 0"/><path d="M607 106.5H643.5"/><path d="M620.8 106.5a4.2 4.2 0 1 0 8.4 0a4.2 4.2 0 1 0 -8.4 0"/></g></svg></body></html>
